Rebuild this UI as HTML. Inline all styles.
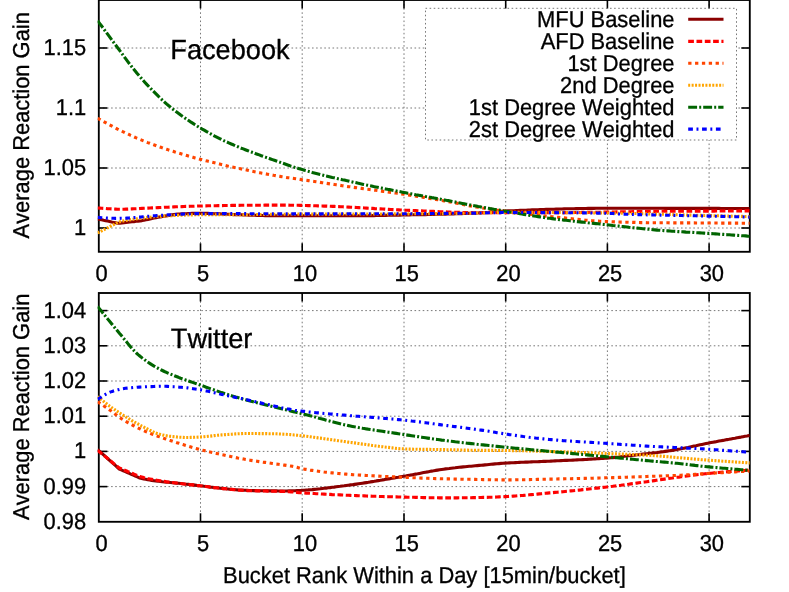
<!DOCTYPE html>
<html><head><meta charset="utf-8"><title>chart</title>
<style>
html,body{margin:0;padding:0;background:#fff;}
body{width:789px;height:592px;overflow:hidden;}
svg{display:block;will-change:transform;}
text{font-family:"Liberation Sans",sans-serif;fill:#000;stroke:#000;stroke-width:0.3px;font-kerning:none;font-variant-ligatures:none;text-rendering:geometricPrecision;}
.grid{stroke:#787878;stroke-width:1;stroke-dasharray:1.6 2.5;fill:none;}
.ax{stroke:#000;stroke-width:1.85;fill:none;}
.tk{stroke:#000;stroke-width:1.6;fill:none;}
.c{fill:none;stroke-width:3.1;stroke-linejoin:round;}
</style></head><body>
<svg width="789" height="592" viewBox="0 0 789 592">
<rect x="0" y="0" width="789" height="592" fill="#fff"/>

<line class="grid" x1="200.5" y1="0.0" x2="200.5" y2="251.8"/>
<line class="grid" x1="302.2" y1="0.0" x2="302.2" y2="251.8"/>
<line class="grid" x1="404.0" y1="0.0" x2="404.0" y2="251.8"/>
<line class="grid" x1="505.7" y1="0.0" x2="505.7" y2="251.8"/>
<line class="grid" x1="607.4" y1="0.0" x2="607.4" y2="251.8"/>
<line class="grid" x1="709.1" y1="0.0" x2="709.1" y2="251.8"/>
<line class="grid" x1="98.8" y1="48.0" x2="749.8" y2="48.0"/>
<line class="grid" x1="98.8" y1="108.0" x2="749.8" y2="108.0"/>
<line class="grid" x1="98.8" y1="168.0" x2="749.8" y2="168.0"/>
<line class="grid" x1="98.8" y1="228.0" x2="749.8" y2="228.0"/>
<line class="grid" x1="200.5" y1="293.0" x2="200.5" y2="521.8"/>
<line class="grid" x1="302.2" y1="293.0" x2="302.2" y2="521.8"/>
<line class="grid" x1="404.0" y1="293.0" x2="404.0" y2="521.8"/>
<line class="grid" x1="505.7" y1="293.0" x2="505.7" y2="521.8"/>
<line class="grid" x1="607.4" y1="293.0" x2="607.4" y2="521.8"/>
<line class="grid" x1="709.1" y1="293.0" x2="709.1" y2="521.8"/>
<line class="grid" x1="98.8" y1="310.6" x2="749.8" y2="310.6"/>
<line class="grid" x1="98.8" y1="345.8" x2="749.8" y2="345.8"/>
<line class="grid" x1="98.8" y1="381.0" x2="749.8" y2="381.0"/>
<line class="grid" x1="98.8" y1="416.2" x2="749.8" y2="416.2"/>
<line class="grid" x1="98.8" y1="451.4" x2="749.8" y2="451.4"/>
<line class="grid" x1="98.8" y1="486.6" x2="749.8" y2="486.6"/>
<rect x="425.5" y="8.3" width="311.0" height="131.7" fill="#fff" stroke="none"/>
<line class="tk" x1="200.5" y1="251.8" x2="200.5" y2="243.3"/>
<line class="tk" x1="200.5" y1="0.0" x2="200.5" y2="8.5"/>
<line class="tk" x1="302.2" y1="251.8" x2="302.2" y2="243.3"/>
<line class="tk" x1="302.2" y1="0.0" x2="302.2" y2="8.5"/>
<line class="tk" x1="404.0" y1="251.8" x2="404.0" y2="243.3"/>
<line class="tk" x1="404.0" y1="0.0" x2="404.0" y2="8.5"/>
<line class="tk" x1="505.7" y1="251.8" x2="505.7" y2="243.3"/>
<line class="tk" x1="505.7" y1="0.0" x2="505.7" y2="8.5"/>
<line class="tk" x1="607.4" y1="251.8" x2="607.4" y2="243.3"/>
<line class="tk" x1="607.4" y1="0.0" x2="607.4" y2="8.5"/>
<line class="tk" x1="709.1" y1="251.8" x2="709.1" y2="243.3"/>
<line class="tk" x1="709.1" y1="0.0" x2="709.1" y2="8.5"/>
<line class="tk" x1="98.8" y1="48.0" x2="107.3" y2="48.0"/>
<line class="tk" x1="749.8" y1="48.0" x2="741.3" y2="48.0"/>
<line class="tk" x1="98.8" y1="108.0" x2="107.3" y2="108.0"/>
<line class="tk" x1="749.8" y1="108.0" x2="741.3" y2="108.0"/>
<line class="tk" x1="98.8" y1="168.0" x2="107.3" y2="168.0"/>
<line class="tk" x1="749.8" y1="168.0" x2="741.3" y2="168.0"/>
<line class="tk" x1="98.8" y1="228.0" x2="107.3" y2="228.0"/>
<line class="tk" x1="749.8" y1="228.0" x2="741.3" y2="228.0"/>
<rect class="ax" x="98.8" y="0.0" width="651.0" height="251.8"/>
<line class="tk" x1="200.5" y1="521.8" x2="200.5" y2="513.3"/>
<line class="tk" x1="200.5" y1="293.0" x2="200.5" y2="301.5"/>
<line class="tk" x1="302.2" y1="521.8" x2="302.2" y2="513.3"/>
<line class="tk" x1="302.2" y1="293.0" x2="302.2" y2="301.5"/>
<line class="tk" x1="404.0" y1="521.8" x2="404.0" y2="513.3"/>
<line class="tk" x1="404.0" y1="293.0" x2="404.0" y2="301.5"/>
<line class="tk" x1="505.7" y1="521.8" x2="505.7" y2="513.3"/>
<line class="tk" x1="505.7" y1="293.0" x2="505.7" y2="301.5"/>
<line class="tk" x1="607.4" y1="521.8" x2="607.4" y2="513.3"/>
<line class="tk" x1="607.4" y1="293.0" x2="607.4" y2="301.5"/>
<line class="tk" x1="709.1" y1="521.8" x2="709.1" y2="513.3"/>
<line class="tk" x1="709.1" y1="293.0" x2="709.1" y2="301.5"/>
<line class="tk" x1="98.8" y1="310.6" x2="107.3" y2="310.6"/>
<line class="tk" x1="749.8" y1="310.6" x2="741.3" y2="310.6"/>
<line class="tk" x1="98.8" y1="345.8" x2="107.3" y2="345.8"/>
<line class="tk" x1="749.8" y1="345.8" x2="741.3" y2="345.8"/>
<line class="tk" x1="98.8" y1="381.0" x2="107.3" y2="381.0"/>
<line class="tk" x1="749.8" y1="381.0" x2="741.3" y2="381.0"/>
<line class="tk" x1="98.8" y1="416.2" x2="107.3" y2="416.2"/>
<line class="tk" x1="749.8" y1="416.2" x2="741.3" y2="416.2"/>
<line class="tk" x1="98.8" y1="451.4" x2="107.3" y2="451.4"/>
<line class="tk" x1="749.8" y1="451.4" x2="741.3" y2="451.4"/>
<line class="tk" x1="98.8" y1="486.6" x2="107.3" y2="486.6"/>
<line class="tk" x1="749.8" y1="486.6" x2="741.3" y2="486.6"/>
<rect class="ax" x="98.8" y="293.0" width="651.0" height="228.8"/>
<clipPath id="cpt"><rect x="97.6" y="0.0" width="652.6" height="251.8"/></clipPath>
<g clip-path="url(#cpt)">
<path class="c" d="M97.6,219.0 L99.6,219.4 L101.6,219.8 L103.6,220.3 L105.6,220.7 L107.6,221.1 L109.6,221.5 L111.6,222.0 L113.6,222.4 L115.6,222.8 L117.6,223.2 L118.0,223.3 L120.0,223.1 L122.0,222.9 L124.0,222.6 L126.0,222.4 L128.0,222.2 L130.0,222.0 L132.0,221.8 L134.0,221.6 L136.0,221.3 L138.0,221.1 L140.0,220.9 L142.0,220.6 L144.0,220.2 L146.0,219.8 L148.0,219.4 L150.0,219.0 L152.0,218.5 L154.0,218.1 L156.0,217.7 L158.0,217.3 L160.0,216.9 L162.0,216.6 L164.0,216.2 L166.0,215.9 L168.0,215.5 L170.0,215.2 L172.0,214.9 L174.0,214.6 L176.0,214.3 L178.0,214.1 L180.0,214.0 L182.0,213.9 L184.0,213.8 L186.0,213.7 L188.0,213.6 L190.0,213.5 L192.0,213.4 L194.0,213.4 L196.0,213.3 L198.0,213.3 L200.0,213.3 L202.0,213.3 L204.0,213.3 L206.0,213.4 L208.0,213.4 L210.0,213.5 L212.0,213.6 L214.0,213.7 L216.0,213.7 L218.0,213.8 L220.0,213.9 L222.0,214.0 L224.0,214.1 L226.0,214.2 L228.0,214.3 L230.0,214.4 L232.0,214.5 L234.0,214.6 L235.0,214.6 L237.0,214.7 L239.0,214.7 L241.0,214.8 L243.0,214.9 L245.0,214.9 L247.0,215.0 L249.0,215.1 L251.0,215.2 L253.0,215.2 L255.0,215.3 L257.0,215.4 L259.0,215.4 L261.0,215.5 L263.0,215.5 L265.0,215.6 L267.0,215.6 L269.0,215.7 L271.0,215.7 L273.0,215.8 L275.0,215.8 L277.0,215.8 L279.0,215.8 L280.0,215.8 L282.0,215.8 L284.0,215.8 L286.0,215.8 L288.0,215.8 L290.0,215.8 L292.0,215.8 L294.0,215.8 L296.0,215.8 L298.0,215.8 L300.0,215.8 L302.0,215.8 L304.0,215.8 L306.0,215.8 L308.0,215.8 L310.0,215.8 L312.0,215.8 L314.0,215.8 L316.0,215.8 L318.0,215.8 L320.0,215.8 L322.0,215.8 L324.0,215.8 L326.0,215.8 L328.0,215.8 L330.0,215.8 L332.0,215.8 L334.0,215.8 L336.0,215.8 L338.0,215.8 L340.0,215.8 L342.0,215.8 L344.0,215.8 L346.0,215.8 L348.0,215.8 L350.0,215.8 L352.0,215.8 L354.0,215.8 L356.0,215.8 L358.0,215.8 L360.0,215.8 L362.0,215.7 L364.0,215.7 L366.0,215.7 L368.0,215.7 L370.0,215.6 L372.0,215.6 L374.0,215.6 L376.0,215.5 L378.0,215.5 L380.0,215.5 L382.0,215.4 L384.0,215.4 L386.0,215.4 L388.0,215.3 L390.0,215.3 L392.0,215.2 L394.0,215.2 L396.0,215.2 L398.0,215.1 L400.0,215.1 L402.0,215.0 L403.7,215.0 L405.7,215.0 L407.7,214.9 L409.7,214.9 L411.7,214.8 L413.7,214.8 L415.7,214.8 L417.7,214.7 L419.7,214.7 L421.7,214.6 L423.7,214.6 L425.7,214.6 L427.7,214.5 L429.7,214.5 L431.7,214.4 L433.7,214.4 L435.7,214.3 L437.7,214.3 L439.7,214.2 L441.7,214.2 L443.7,214.1 L445.7,214.1 L447.7,214.0 L449.7,214.0 L451.7,213.9 L453.7,213.9 L455.7,213.8 L457.7,213.7 L459.7,213.7 L461.7,213.6 L463.7,213.5 L465.7,213.5 L467.7,213.4 L469.7,213.3 L471.7,213.2 L473.7,213.2 L475.7,213.1 L477.7,213.0 L479.7,212.9 L480.0,212.9 L482.0,212.8 L484.0,212.7 L486.0,212.5 L488.0,212.4 L490.0,212.2 L492.0,212.0 L494.0,211.9 L496.0,211.7 L498.0,211.5 L500.0,211.4 L502.0,211.2 L504.0,211.1 L506.0,211.0 L508.0,210.9 L510.0,210.8 L512.0,210.7 L514.0,210.7 L516.0,210.6 L518.0,210.5 L520.0,210.4 L522.0,210.3 L524.0,210.2 L526.0,210.2 L528.0,210.1 L530.0,210.0 L532.0,209.9 L534.0,209.9 L536.0,209.8 L538.0,209.7 L540.0,209.6 L542.0,209.6 L544.0,209.5 L546.0,209.4 L548.0,209.4 L550.0,209.3 L552.0,209.2 L554.0,209.2 L556.0,209.1 L558.0,209.1 L560.0,209.0 L562.0,209.0 L564.0,208.9 L566.0,208.8 L568.0,208.8 L570.0,208.8 L572.0,208.7 L574.0,208.7 L576.0,208.6 L578.0,208.6 L580.0,208.5 L582.0,208.5 L584.0,208.5 L586.0,208.5 L588.0,208.4 L590.0,208.4 L592.0,208.4 L594.0,208.4 L596.0,208.3 L598.0,208.3 L600.0,208.3 L602.0,208.3 L604.0,208.3 L606.0,208.3 L607.0,208.3 L609.0,208.3 L611.0,208.3 L613.0,208.3 L615.0,208.3 L617.0,208.3 L619.0,208.3 L621.0,208.3 L623.0,208.3 L625.0,208.3 L627.0,208.3 L629.0,208.3 L631.0,208.3 L633.0,208.3 L635.0,208.3 L637.0,208.3 L639.0,208.3 L641.0,208.3 L643.0,208.3 L645.0,208.3 L647.0,208.3 L649.0,208.3 L651.0,208.3 L653.0,208.3 L655.0,208.3 L657.0,208.3 L659.0,208.3 L661.0,208.3 L663.0,208.3 L665.0,208.4 L667.0,208.4 L669.0,208.4 L671.0,208.4 L673.0,208.4 L675.0,208.4 L677.0,208.4 L679.0,208.4 L681.0,208.4 L683.0,208.4 L685.0,208.4 L687.0,208.4 L689.0,208.4 L691.0,208.4 L693.0,208.4 L695.0,208.4 L697.0,208.4 L699.0,208.4 L701.0,208.4 L703.0,208.4 L705.0,208.4 L707.0,208.4 L709.0,208.4 L711.0,208.4 L713.0,208.4 L715.0,208.4 L717.0,208.4 L719.0,208.4 L721.0,208.5 L723.0,208.5 L725.0,208.5 L727.0,208.5 L729.0,208.5 L731.0,208.5 L733.0,208.5 L735.0,208.5 L737.0,208.5 L739.0,208.5 L741.0,208.5 L743.0,208.5 L745.0,208.5 L747.0,208.5 L749.0,208.5 L749.5,208.5" stroke="#8b0000"/>
<path class="c" d="M97.6,208.0 L99.6,208.1 L101.6,208.3 L103.6,208.4 L105.6,208.5 L107.6,208.7 L109.6,208.8 L111.6,208.9 L113.6,209.0 L115.6,209.1 L117.6,209.2 L119.6,209.2 L120.0,209.2 L122.0,209.2 L124.0,209.2 L126.0,209.1 L128.0,209.1 L130.0,209.0 L132.0,208.9 L134.0,208.8 L136.0,208.8 L138.0,208.7 L140.0,208.5 L142.0,208.4 L144.0,208.3 L146.0,208.2 L148.0,208.1 L150.0,208.0 L152.0,207.9 L154.0,207.8 L156.0,207.7 L158.0,207.6 L160.0,207.5 L162.0,207.4 L164.0,207.3 L166.0,207.3 L168.0,207.2 L170.0,207.1 L172.0,207.0 L174.0,206.9 L176.0,206.8 L178.0,206.7 L180.0,206.7 L182.0,206.6 L184.0,206.5 L186.0,206.4 L188.0,206.4 L190.0,206.3 L192.0,206.2 L194.0,206.2 L196.0,206.1 L198.0,206.0 L200.0,206.0 L202.0,206.0 L204.0,205.9 L206.0,205.9 L208.0,205.8 L210.0,205.8 L212.0,205.7 L214.0,205.7 L216.0,205.7 L218.0,205.6 L220.0,205.6 L222.0,205.6 L224.0,205.5 L226.0,205.5 L228.0,205.5 L230.0,205.5 L232.0,205.4 L234.0,205.4 L235.0,205.4 L237.0,205.4 L239.0,205.4 L241.0,205.3 L243.0,205.3 L245.0,205.3 L247.0,205.3 L249.0,205.3 L251.0,205.2 L253.0,205.2 L255.0,205.2 L257.0,205.2 L259.0,205.2 L261.0,205.2 L263.0,205.2 L265.0,205.1 L267.0,205.1 L269.0,205.1 L271.0,205.1 L273.0,205.1 L275.0,205.1 L277.0,205.1 L279.0,205.1 L280.0,205.1 L282.0,205.1 L284.0,205.1 L286.0,205.1 L288.0,205.1 L290.0,205.2 L292.0,205.2 L294.0,205.2 L296.0,205.3 L298.0,205.3 L300.0,205.4 L302.0,205.4 L304.0,205.5 L306.0,205.5 L308.0,205.6 L310.0,205.6 L312.0,205.7 L314.0,205.8 L316.0,205.8 L318.0,205.9 L320.0,206.0 L322.0,206.0 L324.0,206.1 L326.0,206.1 L328.0,206.2 L330.0,206.3 L330.7,206.3 L332.7,206.4 L334.7,206.4 L336.7,206.5 L338.7,206.6 L340.7,206.7 L342.7,206.8 L344.7,206.9 L346.7,207.0 L348.7,207.1 L350.7,207.2 L352.7,207.3 L354.7,207.4 L356.7,207.5 L358.7,207.6 L360.7,207.7 L362.7,207.8 L364.7,208.0 L366.7,208.1 L368.7,208.2 L370.7,208.3 L372.7,208.4 L374.7,208.6 L376.7,208.7 L378.7,208.8 L380.7,208.9 L382.7,209.0 L384.7,209.1 L386.7,209.3 L388.7,209.4 L390.7,209.5 L392.7,209.6 L394.7,209.7 L396.7,209.8 L398.7,209.9 L400.7,210.0 L402.7,210.1 L403.7,210.1 L405.7,210.2 L407.7,210.3 L409.7,210.4 L411.7,210.4 L413.7,210.5 L415.7,210.6 L417.7,210.7 L419.7,210.8 L421.7,210.9 L423.7,211.0 L425.7,211.1 L427.7,211.2 L429.7,211.3 L431.7,211.4 L433.7,211.4 L435.7,211.5 L437.7,211.6 L439.7,211.7 L441.7,211.8 L443.7,211.9 L445.7,211.9 L447.7,212.0 L449.7,212.1 L451.7,212.2 L453.7,212.2 L455.7,212.3 L457.7,212.4 L459.7,212.4 L461.7,212.5 L463.7,212.5 L465.7,212.6 L467.7,212.6 L469.7,212.6 L471.7,212.6 L473.7,212.7 L475.7,212.7 L477.7,212.7 L479.7,212.7 L480.0,212.7 L482.0,212.7 L484.0,212.7 L486.0,212.7 L488.0,212.7 L490.0,212.7 L492.0,212.7 L494.0,212.6 L496.0,212.6 L498.0,212.6 L500.0,212.6 L502.0,212.6 L504.0,212.6 L506.0,212.6 L508.0,212.6 L510.0,212.6 L512.0,212.6 L514.0,212.6 L516.0,212.6 L518.0,212.6 L520.0,212.6 L522.0,212.6 L524.0,212.6 L526.0,212.6 L528.0,212.6 L530.0,212.6 L532.0,212.6 L534.0,212.6 L536.0,212.6 L538.0,212.6 L540.0,212.6 L542.0,212.6 L544.0,212.6 L546.0,212.6 L548.0,212.6 L550.0,212.6 L552.0,212.6 L554.0,212.6 L556.0,212.6 L558.0,212.6 L560.0,212.6 L562.0,212.6 L564.0,212.6 L566.0,212.6 L568.0,212.6 L570.0,212.6 L572.0,212.5 L574.0,212.5 L576.0,212.5 L578.0,212.5 L580.0,212.5 L582.0,212.4 L584.0,212.4 L586.0,212.4 L588.0,212.4 L590.0,212.3 L592.0,212.3 L594.0,212.3 L596.0,212.3 L598.0,212.2 L600.0,212.2 L602.0,212.2 L604.0,212.1 L606.0,212.1 L607.0,212.1 L609.0,212.1 L611.0,212.0 L613.0,212.0 L615.0,212.0 L617.0,211.9 L619.0,211.9 L621.0,211.9 L623.0,211.8 L625.0,211.8 L627.0,211.8 L629.0,211.7 L631.0,211.7 L633.0,211.6 L635.0,211.6 L637.0,211.6 L639.0,211.5 L641.0,211.5 L643.0,211.5 L645.0,211.5 L647.0,211.4 L649.0,211.4 L650.0,211.4 L652.0,211.4 L654.0,211.4 L656.0,211.4 L658.0,211.3 L660.0,211.3 L662.0,211.3 L664.0,211.3 L666.0,211.3 L668.0,211.3 L670.0,211.3 L672.0,211.2 L674.0,211.2 L676.0,211.2 L678.0,211.2 L680.0,211.2 L682.0,211.2 L684.0,211.2 L686.0,211.2 L688.0,211.2 L690.0,211.2 L692.0,211.1 L694.0,211.1 L696.0,211.1 L698.0,211.1 L700.0,211.1 L702.0,211.1 L704.0,211.1 L706.0,211.1 L708.0,211.1 L710.0,211.1 L712.0,211.1 L714.0,211.1 L716.0,211.0 L718.0,211.0 L720.0,211.0 L722.0,211.0 L724.0,211.0 L726.0,211.0 L728.0,211.0 L730.0,211.0 L732.0,211.0 L734.0,211.0 L736.0,211.0 L738.0,211.0 L740.0,210.9 L742.0,210.9 L744.0,210.9 L746.0,210.9 L748.0,210.9 L749.5,210.9" stroke="#ff0000" stroke-dasharray="5.7 2.6"/>
<path class="c" d="M97.6,118.3 L99.6,119.3 L101.6,120.4 L103.6,121.5 L105.6,122.6 L107.6,123.7 L109.6,124.8 L111.6,125.9 L113.6,127.0 L115.6,128.0 L117.6,129.1 L119.6,130.1 L120.3,130.4 L122.3,131.4 L124.3,132.3 L126.3,133.3 L128.3,134.2 L130.3,135.2 L132.3,136.1 L134.3,137.0 L136.3,137.9 L138.3,138.7 L140.3,139.6 L142.3,140.4 L144.3,141.2 L145.7,141.8 L147.7,142.6 L149.7,143.3 L151.7,144.1 L153.7,144.8 L155.7,145.5 L157.7,146.3 L159.7,147.0 L161.7,147.6 L163.7,148.3 L165.7,149.0 L167.7,149.6 L169.7,150.3 L171.0,150.7 L173.0,151.3 L175.0,152.0 L177.0,152.6 L179.0,153.2 L181.0,153.8 L183.0,154.4 L185.0,155.0 L187.0,155.6 L189.0,156.2 L191.0,156.8 L193.0,157.3 L195.0,157.9 L197.0,158.4 L199.0,159.0 L201.0,159.5 L201.5,159.6 L203.5,160.1 L205.5,160.6 L207.5,161.1 L209.5,161.6 L211.5,162.1 L213.5,162.6 L215.5,163.1 L217.5,163.5 L219.5,164.0 L221.5,164.5 L223.5,164.9 L225.5,165.4 L227.5,165.9 L229.5,166.3 L231.5,166.8 L233.5,167.2 L235.5,167.7 L237.5,168.1 L239.5,168.5 L241.5,169.0 L243.5,169.4 L245.5,169.8 L247.5,170.2 L249.5,170.7 L251.5,171.1 L253.5,171.5 L255.5,171.9 L257.5,172.3 L259.5,172.7 L261.5,173.1 L263.5,173.4 L265.5,173.8 L267.5,174.2 L269.5,174.6 L271.5,174.9 L273.5,175.3 L275.5,175.6 L277.5,176.0 L279.5,176.3 L280.0,176.4 L282.0,176.7 L284.0,177.0 L286.0,177.4 L288.0,177.7 L290.0,177.9 L292.0,178.2 L294.0,178.5 L296.0,178.8 L298.0,179.1 L300.0,179.4 L302.0,179.7 L302.3,179.7 L304.3,180.0 L306.3,180.3 L308.3,180.6 L310.3,180.9 L312.3,181.2 L314.3,181.5 L316.3,181.8 L318.3,182.1 L320.3,182.4 L322.3,182.7 L324.3,183.0 L326.3,183.3 L328.3,183.6 L330.3,183.9 L332.3,184.2 L334.3,184.5 L336.3,184.8 L338.3,185.1 L340.3,185.4 L342.3,185.7 L344.3,186.0 L346.3,186.3 L348.3,186.6 L350.3,186.8 L352.3,187.1 L353.5,187.3 L355.5,187.6 L357.5,187.9 L359.5,188.1 L361.5,188.4 L363.5,188.7 L365.5,189.0 L367.5,189.2 L369.5,189.5 L371.5,189.8 L373.5,190.0 L375.5,190.3 L377.5,190.6 L379.5,190.8 L381.5,191.1 L383.5,191.4 L385.5,191.6 L387.5,191.9 L389.5,192.2 L391.5,192.4 L393.5,192.7 L395.5,193.0 L397.5,193.3 L399.5,193.6 L401.5,193.9 L403.5,194.2 L403.7,194.2 L405.7,194.5 L407.7,194.8 L409.7,195.1 L411.7,195.4 L413.7,195.7 L415.7,196.1 L417.7,196.4 L419.7,196.7 L421.7,197.0 L423.7,197.4 L425.7,197.7 L427.7,198.0 L429.7,198.4 L431.7,198.7 L433.7,199.0 L435.7,199.4 L437.7,199.7 L439.7,200.1 L441.7,200.4 L442.2,200.5 L444.2,200.9 L446.2,201.2 L448.2,201.6 L450.2,202.0 L452.2,202.4 L454.2,202.8 L456.2,203.1 L458.2,203.5 L460.2,203.9 L462.2,204.3 L464.2,204.7 L466.2,205.1 L468.2,205.5 L470.2,205.9 L472.2,206.3 L474.2,206.6 L476.2,207.0 L478.2,207.3 L480.0,207.6 L482.0,207.9 L484.0,208.2 L486.0,208.5 L488.0,208.8 L490.0,209.1 L492.0,209.4 L494.0,209.7 L496.0,210.0 L498.0,210.2 L500.0,210.5 L502.0,210.8 L504.0,211.0 L506.0,211.3 L508.0,211.6 L510.0,211.8 L512.0,212.1 L514.0,212.3 L516.0,212.6 L518.0,212.8 L520.0,213.1 L522.0,213.3 L524.0,213.5 L526.0,213.8 L528.0,214.0 L530.0,214.3 L532.0,214.5 L534.0,214.7 L536.0,214.9 L538.0,215.2 L540.0,215.4 L542.0,215.6 L544.0,215.8 L546.0,216.1 L548.0,216.3 L550.0,216.5 L552.0,216.7 L554.0,216.9 L556.0,217.1 L558.0,217.3 L560.0,217.5 L562.0,217.7 L564.0,217.9 L566.0,218.1 L568.0,218.3 L570.0,218.5 L572.0,218.7 L574.0,219.0 L576.0,219.2 L578.0,219.4 L580.0,219.6 L582.0,219.8 L584.0,220.0 L586.0,220.2 L588.0,220.3 L590.0,220.5 L592.0,220.7 L594.0,220.8 L596.0,221.0 L598.0,221.1 L600.0,221.3 L602.0,221.4 L604.0,221.5 L606.0,221.6 L607.0,221.6 L609.0,221.7 L611.0,221.7 L613.0,221.8 L615.0,221.9 L617.0,221.9 L619.0,222.0 L621.0,222.1 L623.0,222.1 L625.0,222.2 L627.0,222.2 L629.0,222.3 L631.0,222.3 L633.0,222.4 L635.0,222.4 L637.0,222.5 L639.0,222.5 L641.0,222.6 L643.0,222.6 L645.0,222.6 L647.0,222.7 L649.0,222.7 L651.0,222.7 L653.0,222.7 L655.0,222.8 L657.0,222.8 L659.0,222.8 L660.0,222.8 L662.0,222.8 L664.0,222.8 L666.0,222.8 L668.0,222.8 L670.0,222.9 L672.0,222.9 L674.0,222.9 L676.0,222.9 L678.0,222.9 L680.0,222.9 L682.0,222.9 L684.0,222.9 L686.0,222.9 L688.0,222.9 L690.0,222.9 L692.0,222.9 L694.0,222.9 L696.0,223.0 L698.0,223.0 L700.0,223.0 L702.0,223.0 L704.0,223.0 L706.0,223.0 L708.0,223.0 L709.0,223.0 L711.0,223.0 L713.0,223.0 L715.0,223.0 L717.0,223.0 L719.0,223.0 L721.0,223.1 L723.0,223.1 L725.0,223.1 L727.0,223.1 L729.0,223.1 L731.0,223.1 L733.0,223.1 L735.0,223.1 L737.0,223.1 L739.0,223.1 L741.0,223.2 L743.0,223.2 L745.0,223.2 L747.0,223.2 L749.0,223.2 L749.5,223.2" stroke="#ff4500" stroke-dasharray="3.3 3.55"/>
<path class="c" d="M97.6,232.9 L99.6,231.9 L101.6,230.9 L103.6,229.8 L105.6,228.8 L107.6,227.8 L109.6,226.7 L111.6,225.7 L113.6,224.7 L115.6,223.7 L117.6,222.6 L119.0,221.9 L121.0,221.4 L123.0,221.0 L125.0,220.6 L127.0,220.2 L129.0,219.9 L131.0,219.6 L133.0,219.3 L135.0,219.0 L137.0,218.8 L139.0,218.5 L140.0,218.4 L142.0,218.1 L144.0,217.9 L146.0,217.6 L148.0,217.4 L150.0,217.2 L152.0,217.0 L154.0,216.8 L156.0,216.6 L158.0,216.4 L160.0,216.3 L162.0,216.2 L164.0,216.1 L166.0,216.0 L168.0,215.8 L170.0,215.7 L172.0,215.6 L174.0,215.5 L176.0,215.4 L178.0,215.3 L180.0,215.3 L182.0,215.2 L184.0,215.1 L186.0,215.0 L188.0,215.0 L190.0,214.9 L192.0,214.9 L194.0,214.8 L196.0,214.8 L198.0,214.8 L200.0,214.8 L202.0,214.8 L204.0,214.8 L206.0,214.8 L208.0,214.8 L210.0,214.8 L212.0,214.8 L214.0,214.8 L216.0,214.8 L218.0,214.8 L220.0,214.8 L222.0,214.8 L224.0,214.8 L226.0,214.8 L228.0,214.8 L230.0,214.8 L232.0,214.8 L234.0,214.8 L235.0,214.8 L237.0,214.8 L239.0,214.8 L241.0,214.8 L243.0,214.8 L245.0,214.7 L247.0,214.7 L249.0,214.7 L251.0,214.6 L253.0,214.6 L255.0,214.6 L257.0,214.5 L259.0,214.5 L261.0,214.5 L263.0,214.4 L265.0,214.4 L267.0,214.4 L269.0,214.3 L271.0,214.3 L273.0,214.3 L275.0,214.2 L277.0,214.2 L279.0,214.2 L280.0,214.2 L282.0,214.2 L284.0,214.2 L286.0,214.2 L288.0,214.2 L290.0,214.2 L292.0,214.2 L294.0,214.1 L296.0,214.1 L298.0,214.1 L300.0,214.1 L302.0,214.1 L304.0,214.1 L306.0,214.1 L308.0,214.1 L310.0,214.1 L312.0,214.1 L314.0,214.1 L316.0,214.1 L318.0,214.1 L320.0,214.1 L322.0,214.1 L324.0,214.1 L326.0,214.1 L328.0,214.1 L330.0,214.1 L332.0,214.1 L334.0,214.1 L336.0,214.1 L338.0,214.1 L340.0,214.0 L342.0,214.0 L344.0,214.0 L346.0,214.0 L348.0,214.0 L350.0,214.0 L352.0,214.0 L354.0,214.0 L356.0,214.0 L358.0,214.0 L360.0,214.0 L362.0,214.0 L364.0,214.0 L366.0,214.0 L368.0,214.0 L370.0,214.0 L372.0,214.0 L374.0,214.0 L376.0,214.0 L378.0,214.0 L380.0,214.0 L382.0,214.0 L384.0,214.0 L386.0,214.0 L388.0,214.0 L390.0,213.9 L392.0,213.9 L394.0,213.9 L396.0,213.9 L398.0,213.9 L400.0,213.9 L402.0,213.9 L403.7,213.9 L405.7,213.9 L407.7,213.9 L409.7,213.9 L411.7,213.9 L413.7,213.8 L415.7,213.8 L417.7,213.8 L419.7,213.8 L421.7,213.8 L423.7,213.8 L425.7,213.8 L427.7,213.7 L429.7,213.7 L431.7,213.7 L433.7,213.7 L435.7,213.6 L437.7,213.6 L439.7,213.6 L441.7,213.6 L443.7,213.6 L445.7,213.5 L447.7,213.5 L449.7,213.5 L451.7,213.4 L453.7,213.4 L455.7,213.4 L457.7,213.4 L459.7,213.3 L461.7,213.3 L463.7,213.3 L465.7,213.2 L467.7,213.2 L469.7,213.2 L471.7,213.1 L473.7,213.1 L475.7,213.1 L477.7,213.0 L479.7,213.0 L480.0,213.0 L482.0,213.0 L484.0,212.9 L486.0,212.8 L488.0,212.8 L490.0,212.7 L492.0,212.6 L494.0,212.6 L496.0,212.5 L498.0,212.4 L500.0,212.4 L502.0,212.3 L504.0,212.3 L506.0,212.3 L508.0,212.3 L510.0,212.3 L512.0,212.3 L514.0,212.3 L516.0,212.3 L518.0,212.3 L520.0,212.3 L522.0,212.3 L524.0,212.3 L526.0,212.3 L528.0,212.3 L530.0,212.4 L532.0,212.4 L534.0,212.4 L536.0,212.4 L538.0,212.4 L540.0,212.4 L542.0,212.4 L544.0,212.4 L546.0,212.4 L548.0,212.5 L550.0,212.5 L552.0,212.5 L554.0,212.5 L556.0,212.5 L558.0,212.5 L560.0,212.5 L562.0,212.6 L564.0,212.6 L566.0,212.6 L568.0,212.6 L570.0,212.6 L572.0,212.6 L574.0,212.7 L576.0,212.7 L578.0,212.7 L580.0,212.7 L582.0,212.7 L584.0,212.8 L586.0,212.8 L588.0,212.8 L590.0,212.8 L592.0,212.8 L594.0,212.9 L596.0,212.9 L598.0,212.9 L600.0,212.9 L602.0,212.9 L604.0,213.0 L606.0,213.0 L607.0,213.0 L609.0,213.0 L611.0,213.0 L613.0,213.1 L615.0,213.1 L617.0,213.1 L619.0,213.2 L621.0,213.2 L623.0,213.2 L625.0,213.3 L627.0,213.3 L629.0,213.4 L631.0,213.4 L633.0,213.5 L635.0,213.5 L637.0,213.5 L639.0,213.6 L641.0,213.6 L643.0,213.7 L645.0,213.8 L647.0,213.8 L649.0,213.9 L651.0,213.9 L653.0,214.0 L655.0,214.0 L657.0,214.1 L659.0,214.1 L661.0,214.2 L663.0,214.3 L665.0,214.3 L667.0,214.4 L669.0,214.4 L671.0,214.5 L673.0,214.6 L675.0,214.6 L677.0,214.7 L679.0,214.8 L681.0,214.8 L683.0,214.9 L685.0,214.9 L687.0,215.0 L689.0,215.1 L691.0,215.1 L693.0,215.2 L695.0,215.2 L697.0,215.3 L699.0,215.3 L701.0,215.4 L703.0,215.4 L705.0,215.5 L707.0,215.5 L709.0,215.6 L711.0,215.6 L713.0,215.7 L715.0,215.7 L717.0,215.8 L719.0,215.8 L721.0,215.9 L723.0,215.9 L725.0,216.0 L727.0,216.0 L729.0,216.1 L731.0,216.1 L733.0,216.2 L735.0,216.2 L737.0,216.3 L739.0,216.3 L741.0,216.4 L743.0,216.4 L745.0,216.5 L747.0,216.5 L749.0,216.6 L749.5,216.6" stroke="#ffa500" stroke-dasharray="2 1.44"/>
<path class="c" d="M97.6,20.6 L99.6,23.3 L101.6,26.0 L103.6,28.8 L105.6,31.5 L107.6,34.2 L109.6,36.9 L111.6,39.6 L113.6,42.3 L115.6,45.0 L117.6,47.7 L117.8,48.0 L119.8,50.7 L121.8,53.4 L123.8,56.2 L125.8,58.9 L127.8,61.6 L129.8,64.2 L131.8,66.8 L133.0,68.3 L135.0,70.7 L137.0,73.2 L139.0,75.5 L141.0,77.9 L143.0,80.1 L145.0,82.4 L147.0,84.6 L149.0,86.7 L150.8,88.6 L152.8,90.7 L154.8,92.7 L156.8,94.7 L158.8,96.7 L160.8,98.6 L162.8,100.5 L164.8,102.3 L166.8,104.1 L168.8,105.8 L170.8,107.4 L171.0,107.6 L173.0,109.2 L175.0,110.8 L177.0,112.3 L179.0,113.8 L181.0,115.3 L183.0,116.7 L185.0,118.1 L187.0,119.5 L189.0,120.8 L191.0,122.2 L193.0,123.4 L195.0,124.7 L197.0,126.0 L199.0,127.2 L200.2,127.9 L202.2,129.1 L204.2,130.2 L206.2,131.4 L208.2,132.5 L210.2,133.6 L212.2,134.7 L214.2,135.8 L216.2,136.8 L218.2,137.8 L220.2,138.8 L222.2,139.8 L224.2,140.8 L226.2,141.7 L228.2,142.6 L229.3,143.1 L231.3,144.0 L233.3,144.8 L235.3,145.7 L237.3,146.5 L239.3,147.4 L241.3,148.2 L243.3,148.9 L245.3,149.7 L247.3,150.5 L249.3,151.3 L251.3,152.0 L253.3,152.7 L255.3,153.5 L257.3,154.2 L259.3,154.9 L261.3,155.7 L263.3,156.4 L265.3,157.1 L267.3,157.8 L269.3,158.5 L271.3,159.2 L272.4,159.6 L274.4,160.3 L276.4,161.0 L278.4,161.7 L280.4,162.4 L282.4,163.1 L284.4,163.8 L286.4,164.5 L288.4,165.2 L290.4,165.9 L292.4,166.5 L294.4,167.2 L296.4,167.8 L298.4,168.4 L300.4,169.0 L302.3,169.6 L304.3,170.2 L306.3,170.7 L308.3,171.3 L310.3,171.8 L312.3,172.4 L314.3,172.9 L316.3,173.4 L318.3,173.9 L320.3,174.4 L322.3,174.9 L324.3,175.4 L326.3,175.9 L328.3,176.4 L330.3,176.9 L332.3,177.4 L334.3,177.8 L336.3,178.3 L338.3,178.8 L340.3,179.2 L342.3,179.7 L344.3,180.1 L346.3,180.6 L348.3,181.0 L350.3,181.5 L352.3,181.9 L353.5,182.2 L355.5,182.6 L357.5,183.1 L359.5,183.5 L361.5,183.9 L363.5,184.4 L365.5,184.8 L367.5,185.2 L369.5,185.6 L371.5,186.0 L373.5,186.5 L375.5,186.9 L377.5,187.3 L379.5,187.7 L381.5,188.1 L383.5,188.5 L385.5,188.9 L387.5,189.3 L389.5,189.6 L391.5,190.0 L393.5,190.4 L395.5,190.8 L397.5,191.2 L399.5,191.6 L401.5,192.0 L403.5,192.4 L403.7,192.4 L405.7,192.8 L407.7,193.2 L409.7,193.5 L411.7,193.9 L413.7,194.3 L415.7,194.7 L417.7,195.0 L419.7,195.4 L421.7,195.7 L423.7,196.1 L425.7,196.5 L427.7,196.8 L429.7,197.2 L431.7,197.6 L433.7,197.9 L435.7,198.3 L437.7,198.7 L439.7,199.0 L441.7,199.4 L442.2,199.5 L444.2,199.9 L446.2,200.3 L448.2,200.6 L450.2,201.0 L452.2,201.4 L454.2,201.8 L456.2,202.2 L458.2,202.6 L460.2,203.0 L462.2,203.4 L464.2,203.8 L466.2,204.2 L468.2,204.6 L470.2,205.0 L472.2,205.3 L474.2,205.7 L476.2,206.1 L478.2,206.5 L480.0,206.8 L482.0,207.2 L484.0,207.5 L486.0,207.9 L488.0,208.2 L490.0,208.6 L492.0,208.9 L494.0,209.3 L496.0,209.6 L498.0,209.9 L500.0,210.3 L502.0,210.6 L504.0,211.0 L506.0,211.3 L508.0,211.6 L510.0,212.0 L512.0,212.3 L514.0,212.7 L516.0,213.0 L518.0,213.3 L520.0,213.7 L522.0,214.0 L524.0,214.4 L526.0,214.7 L528.0,215.0 L530.0,215.4 L532.0,215.7 L534.0,216.0 L536.0,216.3 L538.0,216.6 L540.0,216.9 L542.0,217.2 L544.0,217.5 L546.0,217.8 L548.0,218.1 L550.0,218.3 L552.0,218.6 L554.0,218.9 L556.0,219.1 L558.0,219.4 L560.0,219.6 L562.0,219.8 L564.0,220.1 L566.0,220.3 L568.0,220.5 L570.0,220.8 L572.0,221.0 L574.0,221.2 L576.0,221.5 L578.0,221.7 L580.0,221.9 L582.0,222.1 L584.0,222.3 L586.0,222.5 L588.0,222.8 L590.0,223.0 L592.0,223.2 L594.0,223.4 L596.0,223.6 L598.0,223.8 L600.0,224.0 L602.0,224.3 L604.0,224.5 L606.0,224.7 L607.0,224.8 L609.0,225.0 L611.0,225.2 L613.0,225.5 L615.0,225.7 L617.0,225.9 L619.0,226.1 L621.0,226.4 L623.0,226.6 L625.0,226.8 L627.0,227.0 L629.0,227.3 L631.0,227.5 L633.0,227.7 L635.0,227.9 L637.0,228.1 L639.0,228.3 L641.0,228.5 L643.0,228.7 L645.0,228.9 L647.0,229.1 L649.0,229.3 L651.0,229.5 L653.0,229.7 L655.0,229.9 L657.0,230.1 L659.0,230.2 L660.0,230.3 L662.0,230.5 L664.0,230.6 L666.0,230.8 L668.0,230.9 L670.0,231.0 L672.0,231.2 L674.0,231.3 L676.0,231.4 L678.0,231.6 L680.0,231.7 L682.0,231.8 L684.0,231.9 L686.0,232.1 L688.0,232.2 L690.0,232.3 L692.0,232.4 L694.0,232.5 L696.0,232.7 L698.0,232.8 L700.0,232.9 L702.0,233.0 L704.0,233.1 L706.0,233.3 L708.0,233.4 L709.5,233.5 L711.5,233.6 L713.5,233.8 L715.5,233.9 L717.5,234.0 L719.5,234.2 L721.5,234.3 L723.5,234.4 L725.5,234.6 L727.5,234.7 L729.5,234.8 L731.5,235.0 L733.5,235.1 L735.5,235.3 L737.5,235.4 L739.5,235.5 L741.5,235.7 L743.5,235.8 L745.5,235.9 L747.5,236.1 L749.5,236.2" stroke="#006400" stroke-dasharray="8.9 2.1 2 2"/>
<path class="c" d="M97.6,217.4 L99.6,217.5 L101.6,217.7 L103.6,217.8 L105.6,217.9 L107.6,218.1 L109.6,218.2 L111.6,218.3 L113.6,218.3 L115.6,218.4 L117.0,218.4 L119.0,218.4 L121.0,218.3 L123.0,218.3 L125.0,218.2 L127.0,218.1 L129.0,218.0 L131.0,217.8 L133.0,217.7 L135.0,217.5 L137.0,217.3 L139.0,217.1 L141.0,217.0 L143.0,216.8 L145.0,216.6 L147.0,216.4 L149.0,216.2 L151.0,216.0 L153.0,215.9 L155.0,215.7 L157.0,215.6 L159.0,215.5 L160.0,215.4 L162.0,215.3 L164.0,215.2 L166.0,215.1 L168.0,214.9 L170.0,214.8 L172.0,214.7 L174.0,214.6 L176.0,214.5 L178.0,214.3 L180.0,214.2 L182.0,214.1 L184.0,214.0 L186.0,213.9 L188.0,213.9 L190.0,213.8 L192.0,213.7 L194.0,213.7 L196.0,213.6 L198.0,213.6 L200.0,213.6 L202.0,213.6 L204.0,213.6 L206.0,213.6 L208.0,213.6 L210.0,213.6 L212.0,213.6 L214.0,213.6 L216.0,213.6 L218.0,213.6 L220.0,213.6 L222.0,213.6 L224.0,213.6 L226.0,213.6 L228.0,213.6 L230.0,213.6 L232.0,213.6 L234.0,213.6 L235.0,213.6 L237.0,213.6 L239.0,213.6 L241.0,213.6 L243.0,213.6 L245.0,213.6 L247.0,213.7 L249.0,213.7 L251.0,213.7 L253.0,213.7 L255.0,213.7 L257.0,213.7 L259.0,213.8 L261.0,213.8 L263.0,213.8 L265.0,213.8 L267.0,213.8 L269.0,213.9 L271.0,213.9 L273.0,213.9 L275.0,213.9 L277.0,213.9 L279.0,213.9 L280.0,213.9 L282.0,213.9 L284.0,213.9 L286.0,213.9 L288.0,213.9 L290.0,213.9 L292.0,213.9 L294.0,213.9 L296.0,213.9 L298.0,213.9 L300.0,213.9 L302.0,213.9 L304.0,213.9 L306.0,213.9 L308.0,213.9 L310.0,213.9 L312.0,213.9 L314.0,213.9 L316.0,213.9 L318.0,213.9 L320.0,213.9 L322.0,213.9 L324.0,213.9 L326.0,213.9 L328.0,213.9 L330.0,213.9 L332.0,213.9 L334.0,213.9 L336.0,213.9 L338.0,213.9 L340.0,213.8 L342.0,213.8 L344.0,213.8 L346.0,213.8 L348.0,213.8 L350.0,213.8 L352.0,213.8 L354.0,213.8 L356.0,213.8 L358.0,213.8 L360.0,213.8 L362.0,213.8 L364.0,213.8 L366.0,213.8 L368.0,213.8 L370.0,213.8 L372.0,213.8 L374.0,213.8 L376.0,213.8 L378.0,213.8 L380.0,213.8 L382.0,213.8 L384.0,213.8 L386.0,213.7 L388.0,213.7 L390.0,213.7 L392.0,213.7 L394.0,213.7 L396.0,213.7 L398.0,213.7 L400.0,213.7 L402.0,213.7 L403.7,213.7 L405.7,213.7 L407.7,213.7 L409.7,213.7 L411.7,213.7 L413.7,213.7 L415.7,213.6 L417.7,213.6 L419.7,213.6 L421.7,213.6 L423.7,213.6 L425.7,213.6 L427.7,213.6 L429.7,213.6 L431.7,213.5 L433.7,213.5 L435.7,213.5 L437.7,213.5 L439.7,213.5 L441.7,213.4 L443.7,213.4 L445.7,213.4 L447.7,213.4 L449.7,213.4 L451.7,213.3 L453.7,213.3 L455.7,213.3 L457.7,213.3 L459.7,213.3 L461.7,213.2 L463.7,213.2 L465.7,213.2 L467.7,213.2 L469.7,213.1 L471.7,213.1 L473.7,213.1 L475.7,213.1 L477.7,213.0 L479.7,213.0 L480.0,213.0 L482.0,213.0 L484.0,212.9 L486.0,212.9 L488.0,212.8 L490.0,212.8 L492.0,212.7 L494.0,212.7 L496.0,212.6 L498.0,212.6 L500.0,212.6 L502.0,212.5 L504.0,212.5 L506.0,212.5 L508.0,212.5 L510.0,212.5 L512.0,212.5 L514.0,212.5 L516.0,212.5 L518.0,212.5 L520.0,212.5 L522.0,212.5 L524.0,212.5 L526.0,212.5 L528.0,212.5 L530.0,212.5 L532.0,212.5 L534.0,212.5 L536.0,212.6 L538.0,212.6 L540.0,212.6 L542.0,212.6 L544.0,212.6 L546.0,212.6 L548.0,212.6 L550.0,212.6 L552.0,212.6 L554.0,212.6 L556.0,212.6 L558.0,212.7 L560.0,212.7 L562.0,212.7 L564.0,212.7 L566.0,212.7 L568.0,212.7 L570.0,212.8 L572.0,212.8 L574.0,212.8 L576.0,212.8 L578.0,212.8 L580.0,212.8 L582.0,212.9 L584.0,212.9 L586.0,212.9 L588.0,212.9 L590.0,213.0 L592.0,213.0 L594.0,213.0 L596.0,213.0 L598.0,213.1 L600.0,213.1 L602.0,213.1 L604.0,213.2 L606.0,213.2 L607.0,213.2 L609.0,213.3 L611.0,213.4 L613.0,213.5 L615.0,213.7 L617.0,213.8 L619.0,214.0 L620.0,214.0 L622.0,214.1 L624.0,214.1 L626.0,214.2 L628.0,214.3 L630.0,214.4 L632.0,214.4 L634.0,214.5 L636.0,214.5 L638.0,214.6 L640.0,214.6 L642.0,214.7 L644.0,214.8 L646.0,214.8 L648.0,214.9 L650.0,214.9 L652.0,214.9 L654.0,215.0 L656.0,215.0 L658.0,215.1 L660.0,215.1 L662.0,215.2 L664.0,215.2 L666.0,215.2 L668.0,215.3 L670.0,215.3 L672.0,215.4 L674.0,215.4 L676.0,215.4 L678.0,215.5 L680.0,215.5 L682.0,215.5 L684.0,215.6 L686.0,215.6 L688.0,215.7 L690.0,215.7 L692.0,215.7 L694.0,215.8 L696.0,215.8 L698.0,215.9 L700.0,215.9 L702.0,215.9 L704.0,216.0 L706.0,216.0 L708.0,216.1 L709.0,216.1 L711.0,216.1 L713.0,216.2 L715.0,216.2 L717.0,216.3 L719.0,216.3 L721.0,216.4 L723.0,216.4 L725.0,216.5 L727.0,216.5 L729.0,216.6 L731.0,216.6 L733.0,216.7 L735.0,216.7 L737.0,216.8 L739.0,216.8 L741.0,216.9 L743.0,216.9 L745.0,217.0 L747.0,217.0 L749.0,217.1 L749.5,217.1" stroke="#0000ff" stroke-dasharray="4.7 3.6 1.95 3.6"/>
</g>
<clipPath id="cpb"><rect x="97.6" y="293.0" width="652.6" height="228.8"/></clipPath>
<g clip-path="url(#cpb)">
<path class="c" d="M97.6,449.5 L99.6,451.3 L101.6,453.1 L103.6,454.9 L105.6,456.7 L107.6,458.5 L109.6,460.3 L111.6,462.1 L113.6,463.9 L115.6,465.7 L117.6,467.5 L119.3,469.0 L121.3,469.9 L123.3,470.8 L125.3,471.6 L127.3,472.5 L129.3,473.4 L131.3,474.3 L133.3,475.2 L135.3,476.1 L137.3,476.9 L139.3,477.8 L139.7,478.0 L141.7,478.5 L143.7,478.9 L145.7,479.3 L147.7,479.7 L149.7,480.0 L151.7,480.4 L153.7,480.7 L155.7,480.9 L157.7,481.2 L158.4,481.3 L160.4,481.5 L162.4,481.8 L164.4,482.0 L166.4,482.2 L168.4,482.3 L170.4,482.5 L172.4,482.7 L174.4,482.9 L176.4,483.1 L178.4,483.3 L178.6,483.3 L180.6,483.5 L182.6,483.7 L184.6,484.0 L186.6,484.2 L188.6,484.4 L190.6,484.7 L192.6,484.9 L194.6,485.1 L196.6,485.4 L198.6,485.6 L200.2,485.8 L202.2,486.0 L204.2,486.3 L206.2,486.5 L208.2,486.8 L210.2,487.1 L212.2,487.3 L214.2,487.6 L216.2,487.8 L218.2,488.0 L220.2,488.3 L221.7,488.4 L223.7,488.6 L225.7,488.8 L227.7,489.0 L229.7,489.2 L231.7,489.4 L233.7,489.5 L235.7,489.7 L237.7,489.9 L239.7,490.0 L241.7,490.1 L243.7,490.3 L245.7,490.3 L247.1,490.4 L249.1,490.5 L251.1,490.5 L253.1,490.6 L255.1,490.6 L257.1,490.7 L259.1,490.7 L261.1,490.7 L263.1,490.8 L265.1,490.8 L267.1,490.8 L269.1,490.9 L271.1,490.9 L272.4,490.9 L274.4,490.9 L276.4,490.9 L278.4,491.0 L280.4,491.0 L282.4,491.0 L284.4,491.0 L285.0,491.0 L287.0,491.0 L289.0,490.9 L291.0,490.9 L293.0,490.8 L295.0,490.7 L297.0,490.6 L299.0,490.5 L301.0,490.4 L302.2,490.3 L304.2,490.2 L306.2,490.0 L308.2,489.9 L310.2,489.7 L312.2,489.6 L314.2,489.4 L316.2,489.2 L318.2,489.0 L320.2,488.8 L322.2,488.5 L324.2,488.3 L326.2,488.1 L328.2,487.8 L330.2,487.6 L332.2,487.3 L334.2,487.1 L336.2,486.8 L338.2,486.5 L340.2,486.3 L342.2,486.0 L344.2,485.8 L346.2,485.5 L348.2,485.2 L348.4,485.2 L350.4,484.9 L352.4,484.7 L354.4,484.4 L356.4,484.1 L358.4,483.8 L360.4,483.5 L362.4,483.2 L364.4,482.9 L366.4,482.6 L368.4,482.3 L370.4,481.9 L372.4,481.6 L374.4,481.3 L376.4,480.9 L378.4,480.6 L380.4,480.3 L382.4,479.9 L384.4,479.6 L386.4,479.2 L388.4,478.9 L390.4,478.6 L392.4,478.2 L394.4,477.9 L396.4,477.5 L398.4,477.2 L400.4,476.8 L402.4,476.5 L403.6,476.3 L405.6,476.0 L407.6,475.6 L409.6,475.2 L411.6,474.9 L413.6,474.5 L415.6,474.1 L417.6,473.8 L419.6,473.4 L421.6,473.0 L423.6,472.6 L425.6,472.2 L427.6,471.9 L429.6,471.5 L431.6,471.1 L433.6,470.8 L435.6,470.4 L437.6,470.1 L439.6,469.8 L441.6,469.5 L443.6,469.2 L445.6,468.9 L447.2,468.7 L449.2,468.5 L451.2,468.2 L453.2,468.0 L455.2,467.8 L457.2,467.5 L459.2,467.3 L461.2,467.1 L463.2,466.9 L465.2,466.7 L467.2,466.5 L469.2,466.3 L471.2,466.2 L473.2,466.0 L475.2,465.8 L477.2,465.6 L479.2,465.4 L481.2,465.3 L483.2,465.1 L485.0,464.9 L487.0,464.7 L489.0,464.5 L491.0,464.3 L493.0,464.1 L495.0,463.9 L497.0,463.8 L499.0,463.6 L501.0,463.4 L503.0,463.3 L505.0,463.1 L505.4,463.1 L507.4,463.0 L509.4,462.9 L511.4,462.8 L513.4,462.7 L515.4,462.6 L517.4,462.5 L519.4,462.4 L521.4,462.3 L523.4,462.2 L525.4,462.1 L527.4,462.1 L529.4,462.0 L531.4,461.9 L533.4,461.8 L535.4,461.8 L537.4,461.7 L539.4,461.6 L541.4,461.5 L543.4,461.4 L545.4,461.4 L547.4,461.3 L549.4,461.2 L551.0,461.1 L553.0,461.0 L555.0,460.9 L557.0,460.8 L559.0,460.7 L561.0,460.6 L563.0,460.5 L565.0,460.4 L567.0,460.4 L569.0,460.3 L571.0,460.2 L573.0,460.1 L575.0,460.0 L577.0,459.9 L579.0,459.8 L581.0,459.7 L583.0,459.6 L585.0,459.5 L587.0,459.4 L589.0,459.2 L591.0,459.1 L593.0,459.0 L595.0,458.9 L597.0,458.8 L599.0,458.6 L601.0,458.5 L603.0,458.4 L605.0,458.2 L606.8,458.1 L608.8,457.9 L610.8,457.8 L612.8,457.6 L614.8,457.4 L616.8,457.2 L618.8,457.0 L620.8,456.7 L622.8,456.5 L624.8,456.3 L626.8,456.0 L628.8,455.8 L630.8,455.6 L632.8,455.3 L634.8,455.1 L636.8,454.8 L637.2,454.8 L639.2,454.6 L641.2,454.3 L643.2,454.1 L645.2,453.9 L647.2,453.7 L649.2,453.4 L651.2,453.2 L653.2,452.9 L655.2,452.7 L657.2,452.5 L659.2,452.2 L661.2,451.9 L663.2,451.7 L665.2,451.4 L667.2,451.1 L669.2,450.8 L670.0,450.7 L672.0,450.4 L674.0,450.1 L676.0,449.7 L678.0,449.3 L680.0,449.0 L682.0,448.6 L684.0,448.2 L686.0,447.8 L688.0,447.4 L690.0,446.9 L692.0,446.5 L694.0,446.1 L696.0,445.7 L698.0,445.2 L700.0,444.8 L702.0,444.4 L704.0,444.0 L706.0,443.6 L708.0,443.2 L709.0,443.0 L711.0,442.6 L713.0,442.2 L715.0,441.9 L717.0,441.5 L719.0,441.1 L721.0,440.7 L723.0,440.4 L725.0,440.0 L727.0,439.6 L729.0,439.3 L731.0,438.9 L733.0,438.5 L735.0,438.2 L737.0,437.8 L739.0,437.4 L741.0,437.1 L743.0,436.7 L745.0,436.3 L747.0,436.0 L749.0,435.6 L749.6,435.5" stroke="#8b0000"/>
<path class="c" d="M97.6,450.4 L99.6,452.0 L101.6,453.6 L103.6,455.2 L105.6,456.9 L107.6,458.5 L109.6,460.1 L111.6,461.7 L113.6,463.4 L115.6,465.0 L117.6,466.6 L119.3,468.0 L121.3,468.8 L123.3,469.7 L125.3,470.5 L127.3,471.3 L129.3,472.2 L131.3,473.0 L133.3,473.8 L135.3,474.7 L137.3,475.5 L139.3,476.3 L139.7,476.5 L141.7,477.0 L143.7,477.6 L145.7,478.0 L147.7,478.5 L149.7,478.9 L151.7,479.3 L153.7,479.7 L155.7,480.0 L157.7,480.4 L158.4,480.5 L160.4,480.8 L162.4,481.1 L164.4,481.4 L166.4,481.7 L168.4,482.0 L170.4,482.3 L172.4,482.5 L174.4,482.8 L176.4,483.0 L178.4,483.3 L178.6,483.3 L180.6,483.5 L182.6,483.8 L184.6,484.0 L186.6,484.3 L188.6,484.5 L190.6,484.7 L192.6,484.9 L194.6,485.2 L196.6,485.4 L198.6,485.6 L200.2,485.8 L202.2,486.0 L204.2,486.3 L206.2,486.5 L208.2,486.8 L210.2,487.1 L212.2,487.3 L214.2,487.6 L216.2,487.8 L218.2,488.0 L220.2,488.2 L221.7,488.4 L223.7,488.6 L225.7,488.8 L227.7,489.0 L229.7,489.2 L231.7,489.4 L233.7,489.6 L235.7,489.8 L237.7,490.0 L239.7,490.2 L241.7,490.3 L243.7,490.4 L245.7,490.5 L247.1,490.6 L249.1,490.7 L251.1,490.7 L253.1,490.8 L255.1,490.8 L257.1,490.9 L259.1,490.9 L261.1,491.0 L263.1,491.0 L265.1,491.0 L267.1,491.1 L269.1,491.1 L271.1,491.2 L272.4,491.2 L274.4,491.2 L276.4,491.3 L278.4,491.3 L280.4,491.4 L282.4,491.4 L284.4,491.5 L285.0,491.5 L287.0,491.6 L289.0,491.7 L291.0,491.9 L293.0,492.0 L295.0,492.2 L297.0,492.4 L299.0,492.6 L301.0,492.7 L302.2,492.8 L304.2,492.9 L306.2,493.1 L308.2,493.2 L310.2,493.3 L312.2,493.4 L314.2,493.5 L316.2,493.7 L318.2,493.8 L320.2,493.9 L322.2,494.0 L324.2,494.1 L326.2,494.2 L328.2,494.3 L330.2,494.4 L332.2,494.6 L334.2,494.7 L336.2,494.8 L338.2,494.8 L340.2,494.9 L342.2,495.0 L344.2,495.1 L346.2,495.2 L348.2,495.3 L348.4,495.3 L350.4,495.4 L352.4,495.5 L354.4,495.5 L356.4,495.6 L358.4,495.7 L360.4,495.8 L362.4,495.8 L364.4,495.9 L366.4,496.0 L368.4,496.1 L370.4,496.1 L372.4,496.2 L374.4,496.3 L376.4,496.3 L378.4,496.4 L380.4,496.5 L382.4,496.5 L384.4,496.6 L386.4,496.6 L388.4,496.7 L390.4,496.8 L392.4,496.8 L394.4,496.9 L396.4,496.9 L398.4,497.0 L400.4,497.0 L402.4,497.1 L403.6,497.1 L405.6,497.1 L407.6,497.2 L409.6,497.2 L411.6,497.3 L413.6,497.3 L415.6,497.4 L417.6,497.4 L419.6,497.5 L421.6,497.5 L423.6,497.6 L425.6,497.6 L427.6,497.7 L429.6,497.7 L431.6,497.7 L433.6,497.8 L435.6,497.8 L437.6,497.8 L439.6,497.9 L441.6,497.9 L443.6,497.9 L445.6,497.9 L447.2,497.9 L449.2,497.9 L451.2,497.9 L453.2,497.9 L455.2,497.9 L457.2,497.9 L459.2,497.8 L461.2,497.8 L463.2,497.8 L465.2,497.8 L467.2,497.7 L469.2,497.7 L471.2,497.7 L473.2,497.6 L475.2,497.6 L477.2,497.6 L479.2,497.5 L481.2,497.5 L483.2,497.4 L485.0,497.4 L487.0,497.4 L489.0,497.3 L491.0,497.2 L493.0,497.2 L495.0,497.1 L497.0,497.0 L499.0,496.9 L501.0,496.8 L503.0,496.7 L505.0,496.6 L505.4,496.6 L507.4,496.5 L509.4,496.4 L511.4,496.3 L513.4,496.1 L515.4,496.0 L517.4,495.8 L519.4,495.7 L521.4,495.5 L523.4,495.4 L525.4,495.2 L527.4,495.0 L529.4,494.8 L531.4,494.6 L533.4,494.5 L535.4,494.3 L537.4,494.1 L539.4,493.9 L541.4,493.7 L543.4,493.5 L545.4,493.3 L547.4,493.1 L549.4,492.9 L551.0,492.8 L553.0,492.6 L555.0,492.4 L557.0,492.2 L559.0,492.1 L561.0,491.9 L563.0,491.7 L565.0,491.5 L567.0,491.3 L569.0,491.1 L571.0,490.9 L573.0,490.7 L575.0,490.5 L577.0,490.3 L579.0,490.1 L581.0,489.9 L583.0,489.6 L585.0,489.4 L587.0,489.2 L589.0,489.0 L591.0,488.8 L593.0,488.6 L595.0,488.3 L597.0,488.1 L599.0,487.9 L601.0,487.7 L603.0,487.4 L605.0,487.2 L606.8,487.0 L608.8,486.8 L610.8,486.5 L612.8,486.3 L614.8,486.0 L616.8,485.8 L618.8,485.5 L620.8,485.3 L622.8,485.0 L624.8,484.7 L626.8,484.5 L628.8,484.2 L630.8,483.9 L632.8,483.6 L634.8,483.4 L636.8,483.1 L638.8,482.8 L640.8,482.5 L642.8,482.2 L644.8,482.0 L646.8,481.7 L648.8,481.4 L650.8,481.1 L652.4,480.9 L654.4,480.6 L656.4,480.3 L658.4,480.0 L660.4,479.7 L662.4,479.4 L664.4,479.1 L666.4,478.8 L668.4,478.5 L670.4,478.2 L672.4,478.0 L674.4,477.7 L675.0,477.6 L677.0,477.3 L679.0,477.1 L681.0,476.8 L683.0,476.5 L685.0,476.3 L687.0,476.0 L689.0,475.7 L691.0,475.5 L693.0,475.2 L695.0,475.0 L697.0,474.7 L699.0,474.5 L701.0,474.3 L703.0,474.0 L705.0,473.8 L707.0,473.6 L709.0,473.4 L711.0,473.2 L713.0,473.0 L715.0,472.8 L717.0,472.6 L719.0,472.5 L721.0,472.3 L723.0,472.1 L725.0,472.0 L727.0,471.8 L729.0,471.6 L731.0,471.5 L733.0,471.3 L735.0,471.2 L737.0,471.0 L739.0,470.9 L741.0,470.7 L743.0,470.5 L745.0,470.4 L747.0,470.2 L749.0,470.1 L749.6,470.0" stroke="#ff0000" stroke-dasharray="5.7 2.6"/>
<path class="c" d="M97.6,401.8 L99.6,403.1 L101.6,404.4 L103.6,405.8 L105.6,407.1 L107.6,408.5 L109.6,409.9 L110.2,410.3 L112.2,411.8 L114.2,413.4 L116.2,414.9 L118.2,416.5 L120.2,417.8 L120.3,417.9 L122.3,419.2 L124.3,420.4 L126.3,421.6 L128.3,422.8 L130.3,423.9 L132.3,425.0 L134.3,426.0 L136.3,427.1 L138.3,428.1 L140.3,429.0 L142.3,430.0 L144.3,430.9 L145.7,431.5 L147.7,432.3 L149.7,433.2 L151.7,434.0 L153.7,434.7 L155.7,435.5 L157.7,436.2 L159.7,436.9 L161.7,437.6 L163.7,438.3 L165.7,438.9 L167.7,439.6 L169.7,440.3 L171.0,440.7 L173.0,441.4 L175.0,442.0 L177.0,442.7 L179.0,443.3 L181.0,444.0 L183.0,444.6 L185.0,445.2 L187.0,445.8 L189.0,446.4 L191.0,447.0 L193.0,447.6 L195.0,448.2 L197.0,448.7 L199.0,449.3 L200.2,449.6 L202.2,450.1 L204.2,450.6 L206.2,451.1 L208.2,451.6 L210.2,452.1 L212.2,452.5 L214.2,453.0 L216.2,453.4 L218.2,453.8 L220.2,454.3 L221.7,454.6 L223.7,455.0 L225.7,455.5 L227.7,455.9 L229.7,456.3 L231.7,456.7 L233.7,457.1 L235.7,457.6 L237.7,458.0 L239.7,458.3 L241.7,458.7 L243.7,459.1 L245.7,459.5 L247.1,459.7 L249.1,460.0 L251.1,460.4 L253.1,460.7 L255.1,461.0 L257.1,461.3 L259.1,461.6 L261.1,461.9 L263.1,462.2 L265.1,462.4 L267.1,462.7 L269.1,463.0 L271.1,463.3 L272.4,463.5 L274.4,463.8 L276.4,464.1 L278.4,464.3 L280.4,464.6 L282.4,464.8 L284.4,465.1 L286.4,465.4 L288.4,465.7 L290.4,466.0 L292.4,466.3 L294.4,466.7 L295.0,466.8 L297.0,467.3 L299.0,467.9 L301.0,468.4 L302.2,468.7 L304.2,469.1 L306.2,469.4 L308.2,469.7 L310.2,470.1 L312.2,470.4 L314.2,470.7 L316.2,470.9 L318.2,471.2 L320.2,471.5 L322.2,471.7 L324.2,472.0 L326.2,472.2 L328.2,472.4 L330.2,472.7 L332.2,472.9 L334.2,473.1 L336.2,473.3 L338.2,473.5 L340.2,473.6 L342.2,473.8 L344.2,474.0 L346.2,474.1 L348.2,474.3 L348.4,474.3 L350.4,474.4 L352.4,474.6 L354.4,474.7 L356.4,474.9 L358.4,475.0 L360.4,475.1 L362.4,475.3 L364.4,475.4 L366.4,475.5 L368.4,475.6 L370.4,475.7 L372.4,475.8 L374.4,475.9 L376.4,476.0 L378.4,476.1 L380.4,476.2 L382.4,476.3 L384.4,476.4 L386.4,476.5 L388.4,476.6 L390.4,476.7 L392.4,476.8 L394.4,476.9 L396.4,477.0 L398.4,477.1 L400.4,477.2 L402.4,477.2 L403.6,477.3 L405.6,477.4 L407.6,477.5 L409.6,477.6 L411.6,477.6 L413.6,477.7 L415.6,477.8 L417.6,477.9 L419.6,478.0 L421.6,478.1 L423.6,478.1 L425.6,478.2 L427.6,478.3 L429.6,478.4 L431.6,478.4 L433.6,478.5 L435.6,478.6 L437.6,478.6 L439.6,478.7 L441.6,478.8 L443.6,478.8 L445.6,478.9 L447.2,478.9 L449.2,478.9 L451.2,479.0 L453.2,479.0 L455.2,479.1 L457.2,479.1 L459.2,479.2 L461.2,479.2 L463.2,479.2 L465.2,479.3 L467.2,479.3 L469.2,479.3 L471.2,479.4 L473.2,479.4 L475.2,479.4 L477.2,479.5 L479.2,479.5 L481.2,479.5 L483.2,479.6 L485.0,479.6 L487.0,479.6 L489.0,479.7 L491.0,479.7 L493.0,479.8 L495.0,479.8 L497.0,479.8 L499.0,479.9 L501.0,479.9 L503.0,479.9 L505.0,479.9 L505.4,479.9 L507.4,479.9 L509.4,479.9 L511.4,479.9 L513.4,479.9 L515.4,479.8 L517.4,479.8 L519.4,479.8 L521.4,479.7 L523.4,479.7 L525.4,479.7 L527.4,479.6 L529.4,479.6 L531.4,479.5 L533.4,479.5 L535.4,479.5 L537.4,479.4 L539.4,479.4 L541.4,479.3 L543.4,479.3 L545.4,479.2 L547.4,479.2 L549.4,479.1 L551.0,479.1 L553.0,479.1 L555.0,479.0 L557.0,479.0 L559.0,478.9 L561.0,478.9 L563.0,478.9 L565.0,478.8 L567.0,478.8 L569.0,478.7 L571.0,478.7 L573.0,478.6 L575.0,478.6 L577.0,478.5 L579.0,478.5 L581.0,478.5 L583.0,478.4 L585.0,478.4 L587.0,478.3 L589.0,478.3 L591.0,478.2 L593.0,478.2 L595.0,478.1 L597.0,478.1 L599.0,478.0 L601.0,478.0 L603.0,477.9 L605.0,477.8 L606.8,477.8 L608.8,477.7 L610.8,477.7 L612.8,477.6 L614.8,477.6 L616.8,477.5 L618.8,477.4 L620.8,477.4 L622.8,477.3 L624.8,477.2 L626.8,477.2 L628.8,477.1 L630.8,477.0 L632.8,477.0 L634.8,476.9 L636.8,476.8 L638.8,476.8 L640.8,476.7 L642.8,476.6 L644.8,476.6 L646.8,476.5 L648.8,476.4 L650.8,476.4 L652.4,476.3 L654.4,476.2 L656.4,476.2 L658.4,476.1 L660.4,476.0 L662.4,476.0 L664.4,475.9 L666.4,475.8 L668.4,475.8 L670.4,475.7 L672.4,475.6 L674.4,475.5 L675.0,475.5 L677.0,475.4 L679.0,475.3 L681.0,475.2 L683.0,475.1 L685.0,475.0 L687.0,474.8 L689.0,474.7 L691.0,474.6 L693.0,474.5 L695.0,474.3 L697.0,474.2 L699.0,474.0 L701.0,473.9 L703.0,473.8 L705.0,473.7 L707.0,473.5 L709.0,473.4 L711.0,473.3 L713.0,473.2 L715.0,473.0 L717.0,472.9 L719.0,472.8 L721.0,472.7 L723.0,472.6 L725.0,472.4 L727.0,472.3 L729.0,472.2 L731.0,472.1 L733.0,472.0 L735.0,471.9 L737.0,471.7 L739.0,471.6 L741.0,471.5 L743.0,471.4 L745.0,471.3 L747.0,471.2 L749.0,471.0 L749.6,471.0" stroke="#ff4500" stroke-dasharray="3.3 3.55"/>
<path class="c" d="M97.6,396.6 L99.6,398.2 L101.6,399.8 L103.6,401.4 L105.6,403.0 L107.6,404.6 L109.6,406.1 L110.2,406.5 L112.2,407.9 L114.2,409.3 L116.2,410.7 L118.2,412.1 L120.2,413.4 L122.2,414.7 L124.2,416.0 L125.4,416.7 L127.4,417.9 L129.4,419.1 L131.4,420.3 L133.4,421.5 L135.4,422.6 L137.4,423.7 L139.4,424.8 L141.4,425.9 L143.4,426.9 L145.4,427.9 L145.7,428.1 L147.7,429.1 L149.7,430.2 L151.7,431.2 L153.7,432.1 L155.7,433.0 L157.7,433.7 L158.4,433.9 L160.4,434.4 L162.4,434.9 L164.4,435.4 L166.4,435.7 L168.4,436.1 L170.4,436.3 L171.0,436.4 L173.0,436.6 L175.0,436.8 L177.0,437.0 L179.0,437.2 L181.0,437.3 L183.0,437.4 L185.0,437.5 L186.3,437.5 L188.3,437.5 L190.3,437.4 L192.3,437.4 L194.3,437.3 L196.3,437.2 L198.3,437.1 L200.2,437.0 L202.2,436.9 L204.2,436.7 L206.2,436.5 L208.2,436.3 L210.2,436.1 L212.2,435.9 L214.2,435.6 L216.2,435.4 L218.2,435.2 L220.2,435.0 L221.7,434.9 L223.7,434.8 L225.7,434.6 L227.7,434.5 L229.7,434.3 L231.7,434.2 L233.7,434.0 L235.7,433.9 L237.7,433.8 L239.7,433.7 L241.7,433.6 L243.7,433.5 L245.7,433.5 L247.1,433.5 L249.1,433.5 L251.1,433.5 L253.1,433.5 L255.1,433.5 L257.1,433.5 L259.1,433.6 L261.1,433.6 L263.1,433.6 L265.1,433.6 L267.1,433.6 L269.1,433.7 L271.1,433.7 L272.4,433.7 L274.4,433.7 L276.4,433.8 L278.4,433.9 L280.4,434.0 L282.4,434.1 L284.4,434.2 L286.4,434.3 L288.4,434.5 L290.4,434.6 L292.4,434.8 L294.4,435.0 L295.0,435.0 L297.0,435.2 L299.0,435.4 L301.0,435.7 L302.2,435.8 L304.2,436.0 L306.2,436.3 L308.2,436.5 L310.2,436.8 L312.2,437.1 L314.2,437.3 L316.2,437.6 L318.2,437.9 L320.2,438.1 L322.2,438.4 L324.2,438.7 L326.2,439.0 L328.2,439.3 L330.2,439.6 L332.2,439.8 L334.2,440.1 L336.2,440.4 L338.2,440.7 L340.2,441.0 L342.2,441.2 L344.2,441.5 L346.2,441.8 L348.2,442.1 L348.4,442.1 L350.4,442.4 L352.4,442.6 L354.4,442.9 L356.4,443.2 L358.4,443.5 L360.4,443.8 L362.4,444.1 L364.4,444.3 L366.4,444.6 L368.4,444.9 L370.4,445.2 L372.4,445.5 L374.4,445.7 L376.4,446.0 L378.4,446.2 L380.4,446.5 L382.4,446.7 L384.4,447.0 L386.4,447.2 L388.4,447.4 L390.4,447.7 L392.4,447.9 L394.4,448.1 L396.4,448.4 L398.4,448.6 L400.4,448.7 L402.4,448.8 L403.6,448.9 L405.6,449.0 L407.6,449.0 L409.6,449.1 L411.6,449.1 L413.6,449.2 L415.6,449.2 L417.6,449.3 L419.6,449.3 L421.6,449.3 L423.6,449.4 L425.6,449.4 L427.6,449.4 L429.6,449.4 L431.6,449.5 L433.6,449.5 L435.6,449.5 L437.6,449.5 L439.6,449.6 L441.6,449.6 L443.6,449.6 L445.6,449.7 L447.2,449.7 L449.2,449.7 L451.2,449.8 L453.2,449.8 L455.2,449.9 L457.2,449.9 L459.2,450.0 L461.2,450.0 L463.2,450.0 L465.2,450.1 L467.2,450.1 L469.2,450.2 L471.2,450.2 L473.2,450.2 L475.2,450.3 L477.2,450.3 L479.2,450.3 L481.2,450.4 L483.2,450.4 L485.0,450.4 L487.0,450.4 L489.0,450.4 L491.0,450.4 L493.0,450.4 L495.0,450.4 L497.0,450.5 L499.0,450.5 L501.0,450.5 L503.0,450.5 L505.0,450.5 L505.4,450.5 L507.4,450.5 L509.4,450.5 L511.4,450.6 L513.4,450.6 L515.4,450.6 L517.4,450.7 L519.4,450.7 L521.4,450.7 L523.4,450.8 L525.4,450.8 L527.4,450.9 L529.4,450.9 L531.4,451.0 L533.4,451.0 L535.4,451.1 L537.4,451.1 L539.4,451.2 L541.4,451.2 L543.4,451.3 L545.4,451.3 L547.4,451.4 L549.4,451.5 L551.0,451.5 L553.0,451.6 L555.0,451.6 L557.0,451.7 L559.0,451.7 L561.0,451.8 L563.0,451.9 L565.0,451.9 L567.0,452.0 L569.0,452.1 L571.0,452.1 L573.0,452.2 L575.0,452.3 L577.0,452.3 L579.0,452.4 L581.0,452.5 L583.0,452.6 L585.0,452.6 L587.0,452.7 L589.0,452.8 L591.0,452.9 L593.0,453.0 L595.0,453.0 L597.0,453.1 L599.0,453.2 L601.0,453.3 L603.0,453.3 L605.0,453.4 L606.8,453.5 L608.8,453.6 L610.8,453.7 L612.8,453.7 L614.8,453.8 L616.8,453.9 L618.8,454.0 L620.8,454.0 L622.8,454.1 L624.8,454.2 L626.8,454.3 L628.8,454.4 L630.8,454.4 L632.8,454.5 L634.8,454.6 L636.8,454.7 L638.8,454.8 L640.8,454.9 L642.8,455.0 L644.8,455.1 L646.8,455.2 L648.8,455.3 L650.8,455.4 L652.4,455.5 L654.4,455.6 L656.4,455.8 L658.4,455.9 L660.4,456.1 L662.4,456.3 L664.4,456.4 L666.4,456.6 L668.4,456.8 L670.4,457.0 L672.4,457.2 L674.4,457.3 L675.0,457.4 L677.0,457.6 L679.0,457.7 L681.0,457.9 L683.0,458.1 L685.0,458.2 L687.0,458.4 L689.0,458.6 L691.0,458.8 L693.0,458.9 L695.0,459.1 L697.0,459.3 L699.0,459.4 L701.0,459.6 L703.0,459.7 L705.0,459.9 L707.0,460.1 L709.0,460.2 L711.0,460.3 L713.0,460.5 L715.0,460.6 L717.0,460.8 L719.0,460.9 L721.0,461.0 L723.0,461.2 L725.0,461.3 L727.0,461.4 L729.0,461.6 L731.0,461.7 L733.0,461.8 L735.0,462.0 L737.0,462.1 L739.0,462.2 L741.0,462.3 L743.0,462.5 L745.0,462.6 L747.0,462.7 L749.0,462.9 L749.6,462.9" stroke="#ffa500" stroke-dasharray="2 1.44"/>
<path class="c" d="M97.6,306.5 L99.6,308.9 L101.6,311.4 L103.6,313.9 L105.6,316.4 L107.6,318.9 L109.6,321.3 L111.6,323.8 L113.6,326.2 L115.6,328.7 L117.6,331.1 L119.6,333.5 L120.3,334.3 L122.3,336.7 L124.3,339.2 L126.3,341.6 L128.3,344.1 L130.3,346.5 L132.3,348.8 L134.3,350.9 L136.3,353.0 L138.1,354.6 L140.1,356.3 L142.1,357.9 L144.1,359.4 L146.1,360.9 L148.1,362.3 L150.1,363.6 L152.1,364.9 L154.1,366.1 L156.1,367.2 L158.1,368.3 L158.4,368.5 L160.4,369.5 L162.4,370.5 L164.4,371.5 L166.4,372.4 L168.4,373.3 L170.4,374.1 L172.4,374.9 L174.4,375.7 L176.4,376.5 L178.4,377.3 L178.6,377.4 L180.6,378.2 L182.6,378.9 L184.6,379.6 L186.6,380.3 L188.6,381.0 L190.6,381.7 L192.6,382.4 L194.6,383.1 L196.6,383.8 L198.6,384.4 L200.2,385.0 L202.2,385.7 L204.2,386.4 L206.2,387.2 L208.2,387.9 L210.2,388.6 L212.2,389.3 L214.2,390.0 L216.2,390.7 L218.2,391.4 L220.2,392.1 L221.7,392.6 L223.7,393.2 L225.7,393.9 L227.7,394.5 L229.7,395.1 L231.7,395.8 L233.7,396.4 L235.7,397.0 L237.7,397.5 L239.7,398.1 L241.7,398.7 L243.7,399.3 L245.7,399.8 L247.1,400.2 L249.1,400.7 L251.1,401.3 L253.1,401.8 L255.1,402.3 L257.1,402.8 L259.1,403.3 L261.1,403.8 L263.1,404.2 L265.1,404.7 L267.1,405.2 L269.1,405.7 L271.1,406.2 L272.4,406.5 L274.4,407.0 L276.4,407.5 L278.4,408.0 L280.4,408.5 L282.4,409.0 L284.4,409.4 L286.4,409.9 L288.4,410.4 L290.4,410.9 L292.4,411.4 L294.4,411.9 L295.0,412.0 L297.0,412.5 L299.0,412.9 L301.0,413.4 L302.2,413.7 L304.2,414.2 L306.2,414.7 L308.2,415.2 L310.2,415.8 L312.2,416.3 L314.2,416.8 L316.2,417.4 L318.2,417.9 L320.2,418.5 L322.2,419.0 L324.2,419.6 L326.2,420.2 L328.2,420.7 L330.2,421.2 L332.2,421.8 L334.2,422.3 L336.2,422.8 L338.2,423.3 L340.2,423.8 L342.2,424.3 L344.2,424.7 L346.2,425.1 L348.2,425.6 L348.4,425.6 L350.4,426.0 L352.4,426.4 L354.4,426.8 L356.4,427.1 L358.4,427.5 L360.4,427.8 L362.4,428.2 L364.4,428.5 L366.4,428.9 L368.4,429.2 L370.4,429.5 L372.4,429.8 L374.4,430.1 L376.4,430.4 L378.4,430.7 L380.4,431.0 L382.4,431.3 L384.4,431.6 L386.4,431.9 L388.4,432.2 L390.4,432.5 L392.4,432.8 L394.4,433.1 L396.4,433.4 L398.4,433.7 L400.4,434.0 L402.4,434.3 L403.6,434.5 L405.6,434.8 L407.6,435.1 L409.6,435.4 L411.6,435.7 L413.6,436.0 L415.6,436.3 L417.6,436.6 L419.6,436.9 L421.6,437.2 L423.6,437.5 L425.6,437.8 L427.6,438.1 L429.6,438.4 L431.6,438.7 L433.6,439.0 L435.6,439.3 L437.6,439.5 L439.6,439.8 L441.6,440.1 L443.6,440.3 L445.6,440.6 L447.2,440.8 L449.2,441.1 L451.2,441.3 L453.2,441.5 L455.2,441.8 L457.2,442.0 L459.2,442.3 L461.2,442.5 L463.2,442.7 L465.2,442.9 L467.2,443.2 L469.2,443.4 L471.2,443.6 L473.2,443.8 L475.2,444.0 L477.2,444.3 L479.2,444.5 L481.2,444.7 L483.2,444.9 L485.0,445.1 L487.0,445.3 L489.0,445.5 L491.0,445.7 L493.0,445.9 L495.0,446.2 L497.0,446.4 L499.0,446.6 L501.0,446.8 L503.0,447.0 L505.0,447.2 L505.4,447.2 L507.4,447.4 L509.4,447.6 L511.4,447.8 L513.4,448.0 L515.4,448.2 L517.4,448.4 L519.4,448.6 L521.4,448.7 L523.4,448.9 L525.4,449.1 L527.4,449.3 L529.4,449.5 L531.4,449.7 L533.4,449.9 L535.4,450.0 L537.4,450.2 L539.4,450.4 L541.4,450.6 L543.4,450.8 L545.4,451.0 L547.4,451.2 L549.4,451.3 L551.0,451.5 L553.0,451.7 L555.0,451.9 L557.0,452.1 L559.0,452.3 L561.0,452.4 L563.0,452.6 L565.0,452.8 L567.0,453.0 L569.0,453.2 L571.0,453.4 L573.0,453.6 L575.0,453.8 L577.0,454.0 L579.0,454.2 L581.0,454.3 L583.0,454.5 L585.0,454.7 L587.0,454.9 L589.0,455.1 L591.0,455.3 L593.0,455.5 L595.0,455.7 L597.0,455.9 L599.0,456.1 L601.0,456.3 L603.0,456.4 L605.0,456.6 L606.8,456.8 L608.8,457.0 L610.8,457.2 L612.8,457.4 L614.8,457.6 L616.8,457.8 L618.8,457.9 L620.8,458.1 L622.8,458.3 L624.8,458.5 L626.8,458.7 L628.8,458.9 L630.8,459.1 L632.8,459.3 L634.8,459.5 L636.8,459.7 L638.8,459.8 L640.8,460.0 L642.8,460.2 L644.8,460.4 L646.8,460.6 L648.8,460.8 L650.8,461.0 L652.4,461.1 L654.4,461.3 L656.4,461.5 L658.4,461.6 L660.4,461.8 L662.4,462.0 L664.4,462.1 L666.4,462.3 L668.4,462.5 L670.4,462.7 L672.4,462.9 L674.4,463.0 L675.0,463.1 L677.0,463.3 L679.0,463.5 L681.0,463.7 L683.0,464.0 L685.0,464.2 L687.0,464.4 L689.0,464.6 L691.0,464.9 L693.0,465.1 L695.0,465.4 L697.0,465.6 L699.0,465.8 L701.0,466.1 L703.0,466.3 L705.0,466.5 L707.0,466.7 L709.0,466.9 L711.0,467.1 L713.0,467.3 L715.0,467.5 L717.0,467.6 L719.0,467.8 L721.0,468.0 L723.0,468.2 L725.0,468.3 L727.0,468.5 L729.0,468.7 L731.0,468.8 L733.0,469.0 L735.0,469.2 L737.0,469.3 L739.0,469.5 L741.0,469.7 L743.0,469.8 L745.0,470.0 L747.0,470.2 L749.0,470.3 L749.6,470.4" stroke="#006400" stroke-dasharray="8.9 2.1 2 2"/>
<path class="c" d="M97.6,399.2 L99.6,398.0 L101.6,396.8 L103.6,395.5 L105.6,394.3 L107.6,393.2 L109.6,392.3 L110.2,392.1 L112.2,391.4 L114.2,390.8 L116.2,390.2 L118.2,389.7 L120.2,389.2 L122.2,388.8 L124.2,388.5 L125.4,388.3 L127.4,388.1 L129.4,387.9 L131.4,387.7 L133.4,387.5 L135.4,387.4 L137.4,387.2 L139.4,387.1 L141.4,387.0 L143.4,386.9 L145.4,386.8 L145.7,386.8 L147.7,386.7 L149.7,386.6 L151.7,386.6 L153.7,386.5 L155.7,386.4 L157.7,386.4 L159.7,386.3 L161.7,386.3 L163.4,386.3 L165.4,386.3 L167.4,386.4 L169.4,386.5 L171.4,386.6 L173.4,386.7 L175.4,386.8 L177.4,387.0 L179.4,387.2 L181.2,387.3 L183.2,387.5 L185.2,387.7 L187.2,387.9 L189.2,388.2 L191.2,388.4 L193.2,388.7 L195.2,389.0 L197.2,389.3 L199.2,389.6 L200.2,389.8 L202.2,390.1 L204.2,390.5 L206.2,390.9 L208.2,391.3 L210.2,391.8 L212.2,392.2 L214.2,392.7 L216.2,393.2 L218.2,393.6 L220.2,394.1 L221.7,394.4 L223.7,394.8 L225.7,395.2 L227.7,395.7 L229.7,396.1 L231.7,396.5 L233.7,396.9 L235.7,397.4 L237.7,397.8 L239.7,398.2 L241.7,398.6 L243.7,399.1 L245.7,399.5 L247.1,399.8 L249.1,400.2 L251.1,400.7 L253.1,401.1 L255.1,401.6 L257.1,402.0 L259.1,402.5 L261.1,402.9 L263.1,403.4 L265.1,403.8 L267.1,404.3 L269.1,404.7 L271.1,405.2 L272.4,405.5 L274.4,406.0 L276.4,406.4 L278.4,406.9 L280.4,407.4 L282.4,407.9 L284.4,408.3 L285.0,408.4 L287.0,408.8 L289.0,409.1 L291.0,409.5 L293.0,409.8 L295.0,410.2 L297.0,410.5 L299.0,410.8 L301.0,411.0 L302.2,411.2 L304.2,411.4 L306.2,411.7 L308.2,411.9 L310.2,412.1 L312.2,412.3 L314.2,412.5 L316.2,412.7 L318.2,412.9 L320.2,413.1 L322.2,413.3 L324.2,413.5 L326.2,413.6 L328.2,413.8 L330.2,414.0 L332.2,414.1 L334.2,414.3 L336.2,414.5 L338.2,414.6 L340.2,414.8 L342.2,415.0 L344.2,415.1 L346.2,415.3 L348.2,415.5 L348.4,415.5 L350.4,415.7 L352.4,415.8 L354.4,416.0 L356.4,416.2 L358.4,416.3 L360.4,416.5 L362.4,416.7 L364.4,416.8 L366.4,417.0 L368.4,417.1 L370.4,417.3 L372.4,417.4 L374.4,417.6 L376.4,417.7 L378.4,417.9 L380.4,418.1 L382.4,418.2 L384.4,418.4 L386.4,418.5 L388.4,418.7 L390.4,418.9 L392.4,419.0 L394.4,419.2 L396.4,419.4 L398.4,419.6 L400.4,419.8 L402.4,420.0 L403.6,420.1 L405.6,420.3 L407.6,420.5 L409.6,420.7 L411.6,421.0 L413.6,421.2 L415.6,421.4 L417.6,421.7 L419.6,421.9 L421.6,422.2 L423.6,422.5 L425.6,422.7 L427.6,423.0 L429.6,423.2 L431.6,423.5 L433.6,423.8 L435.6,424.1 L437.6,424.3 L439.6,424.6 L441.6,424.9 L443.6,425.1 L445.6,425.4 L447.2,425.6 L449.2,425.9 L451.2,426.1 L453.2,426.4 L455.2,426.6 L457.2,426.9 L459.2,427.2 L461.2,427.4 L463.2,427.7 L465.2,427.9 L467.2,428.2 L469.2,428.5 L471.2,428.7 L473.2,429.0 L475.2,429.3 L477.2,429.6 L479.2,429.9 L481.2,430.1 L483.2,430.4 L485.0,430.7 L487.0,431.0 L489.0,431.3 L491.0,431.7 L493.0,432.0 L495.0,432.3 L497.0,432.7 L499.0,433.0 L501.0,433.3 L503.0,433.6 L505.0,433.9 L505.4,434.0 L507.4,434.3 L509.4,434.6 L511.4,434.8 L513.4,435.1 L515.4,435.4 L517.4,435.7 L519.4,436.0 L521.4,436.2 L523.4,436.5 L525.4,436.7 L527.4,437.0 L529.4,437.3 L531.4,437.5 L533.4,437.7 L535.4,438.0 L537.4,438.2 L539.4,438.4 L541.4,438.7 L543.4,438.9 L545.4,439.1 L547.4,439.3 L549.4,439.5 L551.0,439.6 L553.0,439.8 L555.0,439.9 L557.0,440.1 L559.0,440.3 L561.0,440.4 L563.0,440.6 L565.0,440.7 L567.0,440.9 L569.0,441.0 L571.0,441.1 L573.0,441.3 L575.0,441.4 L577.0,441.5 L579.0,441.7 L581.0,441.8 L583.0,441.9 L585.0,442.0 L587.0,442.2 L589.0,442.3 L591.0,442.4 L593.0,442.5 L595.0,442.6 L597.0,442.8 L599.0,442.9 L601.0,443.0 L603.0,443.2 L605.0,443.3 L606.8,443.4 L608.8,443.5 L610.8,443.7 L612.8,443.8 L614.8,443.9 L616.8,444.1 L618.8,444.2 L620.8,444.4 L622.8,444.5 L624.8,444.6 L626.8,444.8 L628.8,444.9 L630.8,445.0 L632.8,445.2 L634.8,445.3 L636.8,445.5 L638.8,445.6 L640.8,445.7 L642.8,445.8 L644.8,446.0 L646.8,446.1 L648.8,446.2 L650.8,446.3 L652.4,446.4 L654.4,446.5 L656.4,446.6 L658.4,446.7 L660.4,446.8 L662.4,446.9 L664.4,447.0 L666.4,447.1 L668.4,447.2 L670.4,447.3 L672.4,447.4 L674.4,447.5 L675.0,447.5 L677.0,447.6 L679.0,447.7 L681.0,447.8 L683.0,447.9 L685.0,448.0 L687.0,448.1 L689.0,448.2 L691.0,448.3 L693.0,448.4 L695.0,448.5 L697.0,448.6 L699.0,448.7 L701.0,448.8 L703.0,448.9 L705.0,449.1 L707.0,449.2 L709.0,449.3 L711.0,449.4 L713.0,449.6 L715.0,449.7 L717.0,449.8 L719.0,450.0 L721.0,450.1 L723.0,450.3 L725.0,450.4 L727.0,450.6 L729.0,450.7 L731.0,450.9 L733.0,451.0 L735.0,451.2 L737.0,451.3 L739.0,451.5 L741.0,451.6 L743.0,451.8 L745.0,452.0 L747.0,452.1 L749.0,452.3 L749.6,452.3" stroke="#0000ff" stroke-dasharray="4.7 3.6 1.95 3.6"/>
</g>
<rect class="grid" x="425.5" y="8.3" width="311.0" height="131.7"/>
<path class="c" d="M688.2,19.3 L723.5,19.3" stroke="#8b0000"/>
<text transform="translate(674.5,26.7) scale(1,1.05)" font-size="21.9" text-anchor="end">MFU Baseline</text>
<path class="c" d="M688.2,41.4 L723.5,41.4" stroke="#ff0000" stroke-dasharray="5.7 2.6"/>
<text transform="translate(674.5,48.8) scale(1,1.05)" font-size="21.9" text-anchor="end">AFD Baseline</text>
<path class="c" d="M688.2,63.3 L723.5,63.3" stroke="#ff4500" stroke-dasharray="3.3 3.55"/>
<text transform="translate(674.5,70.7) scale(1,1.05)" font-size="21.9" text-anchor="end">1st Degree</text>
<path class="c" d="M688.2,85.3 L723.5,85.3" stroke="#ffa500" stroke-dasharray="2 1.44"/>
<text transform="translate(674.5,92.7) scale(1,1.05)" font-size="21.9" text-anchor="end">2nd Degree</text>
<path class="c" d="M688.2,107.2 L723.5,107.2" stroke="#006400" stroke-dasharray="8.9 2.1 2 2"/>
<text transform="translate(674.5,114.6) scale(1,1.05)" font-size="21.9" text-anchor="end">1st Degree Weighted</text>
<path class="c" d="M688.2,129.1 L723.5,129.1" stroke="#0000ff" stroke-dasharray="4.7 3.6 1.95 3.6"/>
<text transform="translate(674.5,136.5) scale(1,1.05)" font-size="21.9" text-anchor="end">2st Degree Weighted</text>
<text transform="translate(86.2,55.0) scale(1,1.05)" font-size="21.9" text-anchor="end">1.15</text>
<text transform="translate(86.2,115.0) scale(1,1.05)" font-size="21.9" text-anchor="end">1.1</text>
<text transform="translate(86.2,175.0) scale(1,1.05)" font-size="21.9" text-anchor="end">1.05</text>
<text transform="translate(86.2,235.0) scale(1,1.05)" font-size="21.9" text-anchor="end">1</text>
<text transform="translate(101.5,281.3) scale(1,1.05)" font-size="21.9" text-anchor="middle">0</text>
<text transform="translate(203.2,281.3) scale(1,1.05)" font-size="21.9" text-anchor="middle">5</text>
<text transform="translate(304.9,281.3) scale(1,1.05)" font-size="21.9" text-anchor="middle">10</text>
<text transform="translate(406.7,281.3) scale(1,1.05)" font-size="21.9" text-anchor="middle">15</text>
<text transform="translate(508.4,281.3) scale(1,1.05)" font-size="21.9" text-anchor="middle">20</text>
<text transform="translate(610.1,281.3) scale(1,1.05)" font-size="21.9" text-anchor="middle">25</text>
<text transform="translate(711.8,281.3) scale(1,1.05)" font-size="21.9" text-anchor="middle">30</text>
<text transform="translate(86.2,317.6) scale(1,1.05)" font-size="21.9" text-anchor="end">1.04</text>
<text transform="translate(86.2,352.8) scale(1,1.05)" font-size="21.9" text-anchor="end">1.03</text>
<text transform="translate(86.2,388.0) scale(1,1.05)" font-size="21.9" text-anchor="end">1.02</text>
<text transform="translate(86.2,423.2) scale(1,1.05)" font-size="21.9" text-anchor="end">1.01</text>
<text transform="translate(86.2,458.4) scale(1,1.05)" font-size="21.9" text-anchor="end">1</text>
<text transform="translate(86.2,493.6) scale(1,1.05)" font-size="21.9" text-anchor="end">0.99</text>
<text transform="translate(101.5,551.3) scale(1,1.05)" font-size="21.9" text-anchor="middle">0</text>
<text transform="translate(203.2,551.3) scale(1,1.05)" font-size="21.9" text-anchor="middle">5</text>
<text transform="translate(304.9,551.3) scale(1,1.05)" font-size="21.9" text-anchor="middle">10</text>
<text transform="translate(406.7,551.3) scale(1,1.05)" font-size="21.9" text-anchor="middle">15</text>
<text transform="translate(508.4,551.3) scale(1,1.05)" font-size="21.9" text-anchor="middle">20</text>
<text transform="translate(610.1,551.3) scale(1,1.05)" font-size="21.9" text-anchor="middle">25</text>
<text transform="translate(711.8,551.3) scale(1,1.05)" font-size="21.9" text-anchor="middle">30</text>
<text transform="translate(86.2,528.8) scale(1,1.05)" font-size="21.9" text-anchor="end">0.98</text>
<text transform="translate(170.3,59.2) scale(1,1.02)" font-size="27.2">Facebook</text>
<text transform="translate(170.8,347.8) scale(1,1.035)" font-size="27.2">Twitter</text>
<text transform="translate(424.4,583.4) scale(1,1.05)" font-size="21.9" text-anchor="middle">Bucket Rank Within a Day [15min/bucket]</text>
<text transform="translate(28.7,125.3) rotate(-90) scale(1,1.05)" font-size="21.9" text-anchor="middle">Average Reaction Gain</text>
<text transform="translate(28.7,406.8) rotate(-90) scale(1,1.05)" font-size="21.9" text-anchor="middle">Average Reaction Gain</text>
</svg></body></html>
